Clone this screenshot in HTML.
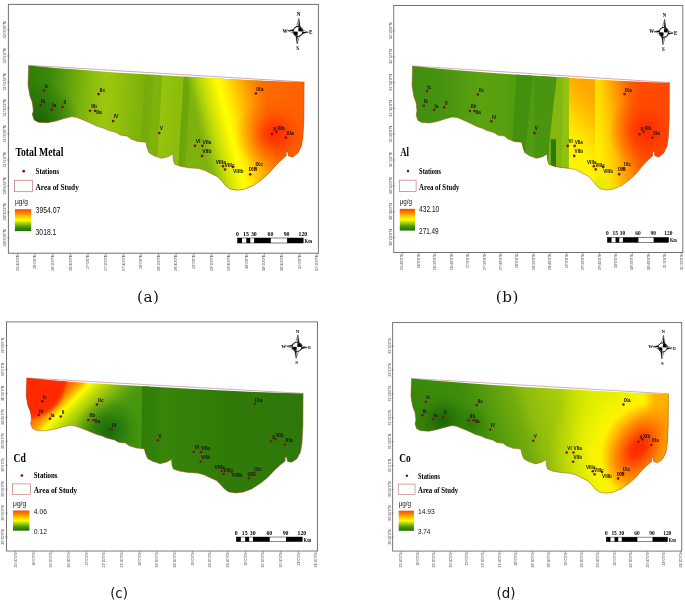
<!DOCTYPE html>
<html lang="en"><head><meta charset="utf-8"><title>Metal distribution maps</title>
<style>html,body{margin:0;padding:0;background:#fff;}svg{display:block;}</style></head>
<body>
<svg width="685" height="600" viewBox="0 0 685 600">
<defs><filter id="soft" x="-2%" y="-2%" width="104%" height="104%" color-interpolation-filters="sRGB"><feGaussianBlur stdDeviation="0.42"/></filter></defs>
<rect width="685" height="600" fill="#fff"/>
<g filter="url(#soft)">
<g transform="translate(0 0)">
<defs><clipPath id="clipa"><path d="M28.6 65.4 L55.0 67.9 L80.0 69.8 L115.0 72.4 L150.0 74.6 L200.0 77.4 L250.0 80.2 L285.0 81.7 L304.1 82.1 L303.9 117.8 L302.9 137.0 L301.5 145.8 L298.0 152.9 L292.7 156.9 L288.6 156.0 L287.3 150.2 L286.0 152.9 L286.4 155.5 L281.3 159.9 L277.5 163.5 L273.9 167.4 L268.6 173.6 L261.6 179.7 L252.9 185.8 L244.0 189.3 L237.0 190.2 L230.0 189.0 L225.7 185.8 L222.2 181.5 L217.7 176.7 L210.3 173.2 L205.1 170.4 L198.8 168.5 L188.8 167.8 L180.4 166.3 L174.7 164.2 L173.4 160.2 L172.9 153.9 L167.8 156.7 L161.5 158.3 L154.0 155.8 L149.0 152.7 L147.1 147.7 L145.8 142.2 L137.7 141.4 L130.8 138.9 L127.0 135.9 L120.1 135.1 L116.3 132.6 L107.5 130.1 L104.0 128.3 L98.0 126.5 L87.6 121.8 L77.0 117.4 L71.8 116.6 L64.8 118.3 L56.0 121.0 L47.3 122.7 L38.5 122.2 L34.2 120.0 L32.4 114.8 L33.3 110.4 L32.4 102.5 L29.8 95.5 L28.0 85.0 Z"/></clipPath><linearGradient id="ag1" gradientUnits="userSpaceOnUse" x1="28.0" y1="130.0" x2="304.0" y2="146.6"><stop offset="0.0000" stop-color="#2f7f08"/><stop offset="0.0614" stop-color="#3a880a"/><stop offset="0.1155" stop-color="#559a0c"/><stop offset="0.1588" stop-color="#6ca90c"/><stop offset="0.2238" stop-color="#8ebe0e"/><stop offset="0.2708" stop-color="#9ac60e"/><stop offset="0.3141" stop-color="#94c20c"/><stop offset="0.3682" stop-color="#86b80c"/><stop offset="0.4079" stop-color="#7eb20a"/><stop offset="0.4116" stop-color="#74ab0a"/><stop offset="0.4404" stop-color="#78ae0a"/><stop offset="0.4440" stop-color="#7eb20c"/><stop offset="0.4711" stop-color="#80b20c"/><stop offset="0.4747" stop-color="#94c40c"/><stop offset="0.5487" stop-color="#8cbc0c"/><stop offset="0.5523" stop-color="#6aa40a"/><stop offset="0.5740" stop-color="#6ea80a"/><stop offset="0.5776" stop-color="#7cb00c"/><stop offset="0.6318" stop-color="#80b40c"/><stop offset="1.0000" stop-color="#80b40c"/></linearGradient><linearGradient id="ag2" gradientUnits="userSpaceOnUse" x1="28.0" y1="130.0" x2="288.7" y2="64.8"><stop offset="0.6101" stop-color="#80b40c" stop-opacity="0"/><stop offset="0.6462" stop-color="#a0c80c" stop-opacity="1"/><stop offset="0.6751" stop-color="#c8e008"/><stop offset="0.7076" stop-color="#f0f000"/><stop offset="0.7292" stop-color="#ffff00"/><stop offset="0.7581" stop-color="#ffe600"/><stop offset="0.7942" stop-color="#ffc000"/><stop offset="0.8375" stop-color="#ff9400"/><stop offset="0.8881" stop-color="#ff6c00"/><stop offset="1.0000" stop-color="#ff6200"/></linearGradient><radialGradient id="ar1" gradientUnits="userSpaceOnUse" cx="38.0" cy="122.0" r="42.0" ><stop offset="0.0000" stop-color="#175f05" stop-opacity="0.9"/><stop offset="0.5000" stop-color="#1c6a06" stop-opacity="0.5"/><stop offset="1.0000" stop-color="#1c6a06" stop-opacity="0"/></radialGradient><radialGradient id="ar2" gradientUnits="userSpaceOnUse" cx="275.0" cy="134.0" r="40.0" ><stop offset="0.0000" stop-color="#ff2a00" stop-opacity="1"/><stop offset="0.2500" stop-color="#ff3400" stop-opacity="0.85"/><stop offset="0.6000" stop-color="#ff4a00" stop-opacity="0.4"/><stop offset="1.0000" stop-color="#ff5a00" stop-opacity="0"/></radialGradient>
<linearGradient id="rampa" gradientUnits="userSpaceOnUse" x1="0.0" y1="209.2" x2="0.0" y2="231.1"><stop offset="0.0000" stop-color="#ff4400"/><stop offset="0.1800" stop-color="#ff8800"/><stop offset="0.3600" stop-color="#ffd000"/><stop offset="0.5000" stop-color="#ffff00"/><stop offset="0.6200" stop-color="#b4d800"/><stop offset="0.8000" stop-color="#4c9a0c"/><stop offset="1.0000" stop-color="#1f6e08"/></linearGradient>
</defs>
<rect x="8.4" y="4.4" width="310.0" height="248.8" fill="#fff" stroke="#707070" stroke-width="1.0"/>
<line x1="17.60" y1="253.2" x2="17.60" y2="255.4" stroke="#555" stroke-width="0.5"/><text transform="translate(18.80 254.8) rotate(-90)" font-family="'Liberation Sans', sans-serif" font-size="3.7" text-anchor="end" fill="#444">25°40'0"E</text><line x1="35.22" y1="253.2" x2="35.22" y2="255.4" stroke="#555" stroke-width="0.5"/><text transform="translate(36.42 254.8) rotate(-90)" font-family="'Liberation Sans', sans-serif" font-size="3.7" text-anchor="end" fill="#444">26°0'0"E</text><line x1="52.84" y1="253.2" x2="52.84" y2="255.4" stroke="#555" stroke-width="0.5"/><text transform="translate(54.04 254.8) rotate(-90)" font-family="'Liberation Sans', sans-serif" font-size="3.7" text-anchor="end" fill="#444">26°20'0"E</text><line x1="70.46" y1="253.2" x2="70.46" y2="255.4" stroke="#555" stroke-width="0.5"/><text transform="translate(71.66 254.8) rotate(-90)" font-family="'Liberation Sans', sans-serif" font-size="3.7" text-anchor="end" fill="#444">26°40'0"E</text><line x1="88.08" y1="253.2" x2="88.08" y2="255.4" stroke="#555" stroke-width="0.5"/><text transform="translate(89.28 254.8) rotate(-90)" font-family="'Liberation Sans', sans-serif" font-size="3.7" text-anchor="end" fill="#444">27°0'0"E</text><line x1="105.70" y1="253.2" x2="105.70" y2="255.4" stroke="#555" stroke-width="0.5"/><text transform="translate(106.90 254.8) rotate(-90)" font-family="'Liberation Sans', sans-serif" font-size="3.7" text-anchor="end" fill="#444">27°20'0"E</text><line x1="123.32" y1="253.2" x2="123.32" y2="255.4" stroke="#555" stroke-width="0.5"/><text transform="translate(124.52 254.8) rotate(-90)" font-family="'Liberation Sans', sans-serif" font-size="3.7" text-anchor="end" fill="#444">27°40'0"E</text><line x1="140.94" y1="253.2" x2="140.94" y2="255.4" stroke="#555" stroke-width="0.5"/><text transform="translate(142.14 254.8) rotate(-90)" font-family="'Liberation Sans', sans-serif" font-size="3.7" text-anchor="end" fill="#444">28°0'0"E</text><line x1="158.56" y1="253.2" x2="158.56" y2="255.4" stroke="#555" stroke-width="0.5"/><text transform="translate(159.76 254.8) rotate(-90)" font-family="'Liberation Sans', sans-serif" font-size="3.7" text-anchor="end" fill="#444">28°20'0"E</text><line x1="176.18" y1="253.2" x2="176.18" y2="255.4" stroke="#555" stroke-width="0.5"/><text transform="translate(177.38 254.8) rotate(-90)" font-family="'Liberation Sans', sans-serif" font-size="3.7" text-anchor="end" fill="#444">28°40'0"E</text><line x1="193.80" y1="253.2" x2="193.80" y2="255.4" stroke="#555" stroke-width="0.5"/><text transform="translate(195.00 254.8) rotate(-90)" font-family="'Liberation Sans', sans-serif" font-size="3.7" text-anchor="end" fill="#444">29°0'0"E</text><line x1="211.42" y1="253.2" x2="211.42" y2="255.4" stroke="#555" stroke-width="0.5"/><text transform="translate(212.62 254.8) rotate(-90)" font-family="'Liberation Sans', sans-serif" font-size="3.7" text-anchor="end" fill="#444">29°20'0"E</text><line x1="229.04" y1="253.2" x2="229.04" y2="255.4" stroke="#555" stroke-width="0.5"/><text transform="translate(230.24 254.8) rotate(-90)" font-family="'Liberation Sans', sans-serif" font-size="3.7" text-anchor="end" fill="#444">29°40'0"E</text><line x1="246.66" y1="253.2" x2="246.66" y2="255.4" stroke="#555" stroke-width="0.5"/><text transform="translate(247.86 254.8) rotate(-90)" font-family="'Liberation Sans', sans-serif" font-size="3.7" text-anchor="end" fill="#444">30°0'0"E</text><line x1="264.28" y1="253.2" x2="264.28" y2="255.4" stroke="#555" stroke-width="0.5"/><text transform="translate(265.48 254.8) rotate(-90)" font-family="'Liberation Sans', sans-serif" font-size="3.7" text-anchor="end" fill="#444">30°20'0"E</text><line x1="281.90" y1="253.2" x2="281.90" y2="255.4" stroke="#555" stroke-width="0.5"/><text transform="translate(283.10 254.8) rotate(-90)" font-family="'Liberation Sans', sans-serif" font-size="3.7" text-anchor="end" fill="#444">30°40'0"E</text><line x1="299.52" y1="253.2" x2="299.52" y2="255.4" stroke="#555" stroke-width="0.5"/><text transform="translate(300.72 254.8) rotate(-90)" font-family="'Liberation Sans', sans-serif" font-size="3.7" text-anchor="end" fill="#444">31°0'0"E</text><line x1="317.14" y1="253.2" x2="317.14" y2="255.4" stroke="#555" stroke-width="0.5"/><text transform="translate(318.34 254.8) rotate(-90)" font-family="'Liberation Sans', sans-serif" font-size="3.7" text-anchor="end" fill="#444">31°20'0"E</text><line x1="7.2" y1="30.00" x2="9.6" y2="30.00" stroke="#555" stroke-width="0.5"/><text transform="translate(6.3 30.00) rotate(-90)" font-family="'Liberation Sans', sans-serif" font-size="3.8" text-anchor="middle" fill="#3a3a3a">32°20'0"N</text><line x1="7.2" y1="56.00" x2="9.6" y2="56.00" stroke="#555" stroke-width="0.5"/><text transform="translate(6.3 56.00) rotate(-90)" font-family="'Liberation Sans', sans-serif" font-size="3.8" text-anchor="middle" fill="#3a3a3a">32°5'0"N</text><line x1="7.2" y1="82.00" x2="9.6" y2="82.00" stroke="#555" stroke-width="0.5"/><text transform="translate(6.3 82.00) rotate(-90)" font-family="'Liberation Sans', sans-serif" font-size="3.8" text-anchor="middle" fill="#3a3a3a">31°50'0"N</text><line x1="7.2" y1="108.00" x2="9.6" y2="108.00" stroke="#555" stroke-width="0.5"/><text transform="translate(6.3 108.00) rotate(-90)" font-family="'Liberation Sans', sans-serif" font-size="3.8" text-anchor="middle" fill="#3a3a3a">31°35'0"N</text><line x1="7.2" y1="134.00" x2="9.6" y2="134.00" stroke="#555" stroke-width="0.5"/><text transform="translate(6.3 134.00) rotate(-90)" font-family="'Liberation Sans', sans-serif" font-size="3.8" text-anchor="middle" fill="#3a3a3a">31°20'0"N</text><line x1="7.2" y1="160.00" x2="9.6" y2="160.00" stroke="#555" stroke-width="0.5"/><text transform="translate(6.3 160.00) rotate(-90)" font-family="'Liberation Sans', sans-serif" font-size="3.8" text-anchor="middle" fill="#3a3a3a">31°5'0"N</text><line x1="7.2" y1="186.00" x2="9.6" y2="186.00" stroke="#555" stroke-width="0.5"/><text transform="translate(6.3 186.00) rotate(-90)" font-family="'Liberation Sans', sans-serif" font-size="3.8" text-anchor="middle" fill="#3a3a3a">30°50'0"N</text><line x1="7.2" y1="212.00" x2="9.6" y2="212.00" stroke="#555" stroke-width="0.5"/><text transform="translate(6.3 212.00) rotate(-90)" font-family="'Liberation Sans', sans-serif" font-size="3.8" text-anchor="middle" fill="#3a3a3a">30°35'0"N</text><line x1="7.2" y1="238.00" x2="9.6" y2="238.00" stroke="#555" stroke-width="0.5"/><text transform="translate(6.3 238.00) rotate(-90)" font-family="'Liberation Sans', sans-serif" font-size="3.8" text-anchor="middle" fill="#3a3a3a">30°20'0"N</text>
<path d="M28.4 65.3 L304.3 82.0" fill="none" stroke="#b88890" stroke-width="0.7"/>
<g clip-path="url(#clipa)"><rect x="20" y="55" width="295" height="145" fill="url(#ag1)"/><rect x="20" y="55" width="295" height="145" fill="url(#ag2)"/><rect x="20" y="55" width="295" height="145" fill="url(#ar1)"/><rect x="20" y="55" width="295" height="145" fill="url(#ar2)"/></g>
<path d="M304.1 82.1 L303.9 117.8 L302.9 137.0 L301.5 145.8 L298.0 152.9 L292.7 156.9 L288.6 156.0 L287.3 150.2 L286.0 152.9 L286.4 155.5 L281.3 159.9 L277.5 163.5 L273.9 167.4 L268.6 173.6 L261.6 179.7 L252.9 185.8 L244.0 189.3 L237.0 190.2 L230.0 189.0 L225.7 185.8 L222.2 181.5 L217.7 176.7 L210.3 173.2 L205.1 170.4 L198.8 168.5 L188.8 167.8 L180.4 166.3 L174.7 164.2 L173.4 160.2 L172.9 153.9 L167.8 156.7 L161.5 158.3 L154.0 155.8 L149.0 152.7 L147.1 147.7 L145.8 142.2 L137.7 141.4 L130.8 138.9 L127.0 135.9 L120.1 135.1 L116.3 132.6 L107.5 130.1 L104.0 128.3 L98.0 126.5 L87.6 121.8 L77.0 117.4 L71.8 116.6 L64.8 118.3 L56.0 121.0 L47.3 122.7 L38.5 122.2 L34.2 120.0 L32.4 114.8 L33.3 110.4 L32.4 102.5 L29.8 95.5 L28.0 85.0 L28.6 65.4" fill="none" stroke="#a84a22" stroke-width="0.6" stroke-opacity="0.85" stroke-linejoin="round"/>
<text x="46.5" y="88.2" font-family="'Liberation Sans', sans-serif" font-size="5.0" font-weight="bold" text-anchor="middle" fill="#151515">Ic</text><text x="43.0" y="102.9" font-family="'Liberation Sans', sans-serif" font-size="5.0" font-weight="bold" text-anchor="middle" fill="#151515">Ib</text><text x="54.3" y="107.2" font-family="'Liberation Sans', sans-serif" font-size="5.0" font-weight="bold" text-anchor="middle" fill="#151515">Ia</text><text x="64.8" y="104.3" font-family="'Liberation Sans', sans-serif" font-size="5.0" font-weight="bold" text-anchor="middle" fill="#151515">II</text><text x="102.5" y="91.7" font-family="'Liberation Sans', sans-serif" font-size="5.0" font-weight="bold" text-anchor="middle" fill="#151515">IIc</text><text x="94.1" y="108.1" font-family="'Liberation Sans', sans-serif" font-size="5.0" font-weight="bold" text-anchor="middle" fill="#151515">IIb</text><text x="99.0" y="113.9" font-family="'Liberation Sans', sans-serif" font-size="5.0" font-weight="bold" text-anchor="middle" fill="#151515">IIa</text><text x="116.0" y="118.3" font-family="'Liberation Sans', sans-serif" font-size="5.0" font-weight="bold" text-anchor="middle" fill="#151515">IV</text><text x="161.3" y="130.0" font-family="'Liberation Sans', sans-serif" font-size="5.0" font-weight="bold" text-anchor="middle" fill="#151515">V</text><text x="198.1" y="142.8" font-family="'Liberation Sans', sans-serif" font-size="5.0" font-weight="bold" text-anchor="middle" fill="#151515">VI</text><text x="206.9" y="143.5" font-family="'Liberation Sans', sans-serif" font-size="5.0" font-weight="bold" text-anchor="middle" fill="#151515">VIIa</text><text x="206.9" y="153.3" font-family="'Liberation Sans', sans-serif" font-size="5.0" font-weight="bold" text-anchor="middle" fill="#151515">VIIb</text><text x="220.8" y="163.9" font-family="'Liberation Sans', sans-serif" font-size="5.0" font-weight="bold" text-anchor="middle" fill="#151515">VIIIa</text><text x="229.6" y="167.4" font-family="'Liberation Sans', sans-serif" font-size="5.0" font-weight="bold" text-anchor="middle" fill="#151515">VIIIc</text><text x="238.3" y="173.2" font-family="'Liberation Sans', sans-serif" font-size="5.0" font-weight="bold" text-anchor="middle" fill="#151515">VIIIb</text><text x="252.9" y="171.3" font-family="'Liberation Sans', sans-serif" font-size="5.0" font-weight="bold" text-anchor="middle" fill="#151515">IXB</text><text x="259.2" y="166.0" font-family="'Liberation Sans', sans-serif" font-size="5.0" font-weight="bold" text-anchor="middle" fill="#151515">IXc</text><text x="259.9" y="91.1" font-family="'Liberation Sans', sans-serif" font-size="5.0" font-weight="bold" text-anchor="middle" fill="#151515">IXa</text><text x="274.7" y="131.3" font-family="'Liberation Sans', sans-serif" font-size="5.0" font-weight="bold" text-anchor="middle" fill="#151515">X</text><text x="280.8" y="129.7" font-family="'Liberation Sans', sans-serif" font-size="5.0" font-weight="bold" text-anchor="middle" fill="#151515">XIb</text><text x="290.1" y="134.9" font-family="'Liberation Sans', sans-serif" font-size="5.0" font-weight="bold" text-anchor="middle" fill="#151515">XIa</text><circle cx="44.0" cy="90.6" r="1.35" fill="#861010"/><circle cx="40.6" cy="105.4" r="1.35" fill="#861010"/><circle cx="51.7" cy="109.6" r="1.35" fill="#861010"/><circle cx="62.5" cy="107.0" r="1.35" fill="#861010"/><circle cx="98.6" cy="94.1" r="1.35" fill="#861010"/><circle cx="90.0" cy="110.8" r="1.35" fill="#861010"/><circle cx="95.1" cy="110.8" r="1.35" fill="#861010"/><circle cx="113.1" cy="121.1" r="1.35" fill="#861010"/><circle cx="159.2" cy="133.0" r="1.35" fill="#861010"/><circle cx="195.0" cy="145.8" r="1.35" fill="#861010"/><circle cx="202.4" cy="145.8" r="1.35" fill="#861010"/><circle cx="202.0" cy="155.9" r="1.35" fill="#861010"/><circle cx="223.0" cy="166.2" r="1.35" fill="#861010"/><circle cx="225.0" cy="169.5" r="1.35" fill="#861010"/><circle cx="233.0" cy="167.0" r="1.35" fill="#861010"/><circle cx="250.2" cy="174.3" r="1.35" fill="#861010"/><circle cx="255.1" cy="168.3" r="1.35" fill="#861010"/><circle cx="255.9" cy="93.6" r="1.35" fill="#861010"/><circle cx="272.0" cy="134.1" r="1.35" fill="#861010"/><circle cx="276.4" cy="131.8" r="1.35" fill="#861010"/><circle cx="285.9" cy="137.6" r="1.35" fill="#861010"/>
<text x="15.4" y="156.1" font-family="'Liberation Serif', serif" font-size="13.00" font-weight="bold" text-anchor="start" fill="#000" textLength="48.0" lengthAdjust="spacingAndGlyphs">Total Metal</text><circle cx="23.7" cy="171.2" r="1.35" fill="#861010"/><text x="35.6" y="174.2" font-family="'Liberation Serif', serif" font-size="8.60" font-weight="bold" text-anchor="start" fill="#000" textLength="23.6" lengthAdjust="spacingAndGlyphs">Stations</text><rect x="14.4" y="180.3" width="18.0" height="11.4" fill="#fff" stroke="#c27474" stroke-width="0.7"/><text x="35.6" y="189.8" font-family="'Liberation Serif', serif" font-size="8.60" font-weight="bold" text-anchor="start" fill="#000" textLength="43.2" lengthAdjust="spacingAndGlyphs">Area of Study</text><text x="14.9" y="204.0" font-family="'Liberation Sans', sans-serif" font-size="7.60" font-weight="normal" text-anchor="start" fill="#111" textLength="13.1" lengthAdjust="spacingAndGlyphs">μg/g</text><rect x="14.9" y="209.2" width="16.3" height="21.9" fill="url(#rampa)"/><text x="35.6" y="212.7" font-family="'Liberation Sans', sans-serif" font-size="8.30" font-weight="normal" text-anchor="start" fill="#111" textLength="24.8" lengthAdjust="spacingAndGlyphs">3954.07</text><text x="35.6" y="234.6" font-family="'Liberation Sans', sans-serif" font-size="8.30" font-weight="normal" text-anchor="start" fill="#111" textLength="20.8" lengthAdjust="spacingAndGlyphs">3018.1</text>
<g transform="translate(298.0 31.5) rotate(4)"><polygon points="0,-13.2 2.0,-3.5 0,0 -2.0,-3.5" fill="#fff" stroke="#000" stroke-width="0.45"/><polygon points="0,-13.2 2.0,-3.5 0,0" fill="#000"/><polygon points="0,12.6 2.0,3.5 0,0 -2.0,3.5" fill="#fff" stroke="#000" stroke-width="0.45"/><polygon points="0,12.6 -2.0,3.5 0,0" fill="#000"/><polygon points="-10.4,0 -3.5,-2.0 0,0 -3.5,2.0" fill="#fff" stroke="#000" stroke-width="0.45"/><polygon points="-10.4,0 -3.5,-2.0 0,0" fill="#000"/><polygon points="10.4,0 3.5,-2.0 0,0 3.5,2.0" fill="#fff" stroke="#000" stroke-width="0.45"/><polygon points="10.4,0 3.5,2.0 0,0" fill="#000"/><circle cx="0" cy="0" r="4.9" fill="#fff" stroke="#111" stroke-width="1.0"/><path d="M0.2 -0.2 L0.2 -4.2 A4.0 4.0 0 0 1 4.2 -0.2 Z" fill="#000"/><path d="M-0.2 0.2 L-0.2 4.2 A4.0 4.0 0 0 1 -4.2 0.2 Z" fill="#000"/></g><text x="298.7" y="16.2" font-family="'Liberation Serif', serif" font-size="5.20" font-weight="bold" text-anchor="middle" fill="#000">N</text><text x="297.6" y="50.4" font-family="'Liberation Serif', serif" font-size="5.20" font-weight="bold" text-anchor="middle" fill="#000">S</text><text x="285.0" y="32.6" font-family="'Liberation Serif', serif" font-size="5.20" font-weight="bold" text-anchor="middle" fill="#000">W</text><text x="310.8" y="34.0" font-family="'Liberation Serif', serif" font-size="5.20" font-weight="bold" text-anchor="middle" fill="#000">E</text>
<rect x="237.5" y="238.0" width="65.7" height="5.0" fill="#fff" stroke="#000" stroke-width="0.5"/><rect x="237.5" y="238.0" width="4.5" height="5.0" fill="#000"/><rect x="246.3" y="238.0" width="4.0" height="5.0" fill="#000"/><rect x="254.1" y="238.0" width="16.7" height="5.0" fill="#000"/><rect x="287.1" y="238.0" width="16.1" height="5.0" fill="#000"/><text x="237.5" y="236.0" font-family="'Liberation Serif', serif" font-size="5.80" font-weight="bold" text-anchor="middle" fill="#000">0</text><text x="245.9" y="236.0" font-family="'Liberation Serif', serif" font-size="5.80" font-weight="bold" text-anchor="middle" fill="#000">15</text><text x="253.8" y="236.0" font-family="'Liberation Serif', serif" font-size="5.80" font-weight="bold" text-anchor="middle" fill="#000">30</text><text x="270.4" y="236.0" font-family="'Liberation Serif', serif" font-size="5.80" font-weight="bold" text-anchor="middle" fill="#000">60</text><text x="286.6" y="236.0" font-family="'Liberation Serif', serif" font-size="5.80" font-weight="bold" text-anchor="middle" fill="#000">90</text><text x="302.9" y="236.0" font-family="'Liberation Serif', serif" font-size="5.80" font-weight="bold" text-anchor="middle" fill="#000">120</text><text x="304.6" y="243.0" font-family="'Liberation Serif', serif" font-size="6.20" font-weight="bold" text-anchor="start" fill="#000" textLength="7.4" lengthAdjust="spacingAndGlyphs">Km</text>
</g>
<g transform="translate(385.9 1.1) scale(0.9325 0.993)">
<defs><clipPath id="clipb"><path d="M28.6 65.4 L55.0 67.9 L80.0 69.8 L115.0 72.4 L150.0 74.6 L200.0 77.4 L250.0 80.2 L285.0 81.7 L304.1 82.1 L303.9 117.8 L302.9 137.0 L301.5 145.8 L298.0 152.9 L292.7 156.9 L288.6 156.0 L287.3 150.2 L286.0 152.9 L286.4 155.5 L281.3 159.9 L277.5 163.5 L273.9 167.4 L268.6 173.6 L261.6 179.7 L252.9 185.8 L244.0 189.3 L237.0 190.2 L230.0 189.0 L225.7 185.8 L222.2 181.5 L217.7 176.7 L210.3 173.2 L205.1 170.4 L198.8 168.5 L188.8 167.8 L180.4 166.3 L174.7 164.2 L173.4 160.2 L172.9 153.9 L167.8 156.7 L161.5 158.3 L154.0 155.8 L149.0 152.7 L147.1 147.7 L145.8 142.2 L137.7 141.4 L130.8 138.9 L127.0 135.9 L120.1 135.1 L116.3 132.6 L107.5 130.1 L104.0 128.3 L98.0 126.5 L87.6 121.8 L77.0 117.4 L71.8 116.6 L64.8 118.3 L56.0 121.0 L47.3 122.7 L38.5 122.2 L34.2 120.0 L32.4 114.8 L33.3 110.4 L32.4 102.5 L29.8 95.5 L28.0 85.0 Z"/></clipPath><linearGradient id="bg1" gradientUnits="userSpaceOnUse" x1="28.0" y1="130.0" x2="305.0" y2="130.0"><stop offset="0.0000" stop-color="#3f8e0e"/><stop offset="0.1155" stop-color="#46930f"/><stop offset="0.2599" stop-color="#5aa210"/><stop offset="0.3502" stop-color="#58a00f"/><stop offset="0.4043" stop-color="#509b0f"/><stop offset="0.6065" stop-color="#509b0f"/></linearGradient><linearGradient id="bg2" gradientUnits="userSpaceOnUse" x1="228.0" y1="95.0" x2="185.0" y2="135.0"><stop offset="0.0000" stop-color="#ffa400"/><stop offset="0.1500" stop-color="#ffac00"/><stop offset="0.3000" stop-color="#ffb800"/><stop offset="0.6000" stop-color="#ffd800"/><stop offset="0.8000" stop-color="#ffec00"/><stop offset="1.0000" stop-color="#fff400"/></linearGradient><linearGradient id="bg3" gradientUnits="userSpaceOnUse" x1="216.0" y1="130.0" x2="303.0" y2="116.9"><stop offset="0.0000" stop-color="#fff400"/><stop offset="0.0921" stop-color="#ffec00"/><stop offset="0.1573" stop-color="#ffe400"/><stop offset="0.2584" stop-color="#ffcc00"/><stop offset="0.4270" stop-color="#ff9400"/><stop offset="0.5730" stop-color="#ff6000"/><stop offset="0.7079" stop-color="#ff4c00"/><stop offset="1.0000" stop-color="#ff4800"/></linearGradient><radialGradient id="br3" gradientUnits="userSpaceOnUse" cx="226.0" cy="188.0" r="26.0" ><stop offset="0.0000" stop-color="#d0e400" stop-opacity="0.8"/><stop offset="0.5000" stop-color="#e8f000" stop-opacity="0.5"/><stop offset="1.0000" stop-color="#ffe800" stop-opacity="0"/></radialGradient><radialGradient id="br2" gradientUnits="userSpaceOnUse" cx="279.0" cy="131.0" r="40.0" ><stop offset="0.0000" stop-color="#ff2a00" stop-opacity="1"/><stop offset="0.3000" stop-color="#ff3400" stop-opacity="0.85"/><stop offset="0.6500" stop-color="#ff4200" stop-opacity="0.4"/><stop offset="1.0000" stop-color="#ff4800" stop-opacity="0"/></radialGradient>
<linearGradient id="rampb" gradientUnits="userSpaceOnUse" x1="0.0" y1="209.2" x2="0.0" y2="231.1"><stop offset="0.0000" stop-color="#ff4400"/><stop offset="0.1800" stop-color="#ff8800"/><stop offset="0.3600" stop-color="#ffd000"/><stop offset="0.5000" stop-color="#ffff00"/><stop offset="0.6200" stop-color="#b4d800"/><stop offset="0.8000" stop-color="#4c9a0c"/><stop offset="1.0000" stop-color="#1f6e08"/></linearGradient>
</defs>
<rect x="8.4" y="4.4" width="310.0" height="248.8" fill="#fff" stroke="#707070" stroke-width="1.0"/>
<line x1="17.60" y1="253.2" x2="17.60" y2="255.4" stroke="#555" stroke-width="0.5"/><text transform="translate(18.80 254.8) rotate(-90)" font-family="'Liberation Sans', sans-serif" font-size="3.7" text-anchor="end" fill="#444">25°40'0"E</text><line x1="35.22" y1="253.2" x2="35.22" y2="255.4" stroke="#555" stroke-width="0.5"/><text transform="translate(36.42 254.8) rotate(-90)" font-family="'Liberation Sans', sans-serif" font-size="3.7" text-anchor="end" fill="#444">26°0'0"E</text><line x1="52.84" y1="253.2" x2="52.84" y2="255.4" stroke="#555" stroke-width="0.5"/><text transform="translate(54.04 254.8) rotate(-90)" font-family="'Liberation Sans', sans-serif" font-size="3.7" text-anchor="end" fill="#444">26°20'0"E</text><line x1="70.46" y1="253.2" x2="70.46" y2="255.4" stroke="#555" stroke-width="0.5"/><text transform="translate(71.66 254.8) rotate(-90)" font-family="'Liberation Sans', sans-serif" font-size="3.7" text-anchor="end" fill="#444">26°40'0"E</text><line x1="88.08" y1="253.2" x2="88.08" y2="255.4" stroke="#555" stroke-width="0.5"/><text transform="translate(89.28 254.8) rotate(-90)" font-family="'Liberation Sans', sans-serif" font-size="3.7" text-anchor="end" fill="#444">27°0'0"E</text><line x1="105.70" y1="253.2" x2="105.70" y2="255.4" stroke="#555" stroke-width="0.5"/><text transform="translate(106.90 254.8) rotate(-90)" font-family="'Liberation Sans', sans-serif" font-size="3.7" text-anchor="end" fill="#444">27°20'0"E</text><line x1="123.32" y1="253.2" x2="123.32" y2="255.4" stroke="#555" stroke-width="0.5"/><text transform="translate(124.52 254.8) rotate(-90)" font-family="'Liberation Sans', sans-serif" font-size="3.7" text-anchor="end" fill="#444">27°40'0"E</text><line x1="140.94" y1="253.2" x2="140.94" y2="255.4" stroke="#555" stroke-width="0.5"/><text transform="translate(142.14 254.8) rotate(-90)" font-family="'Liberation Sans', sans-serif" font-size="3.7" text-anchor="end" fill="#444">28°0'0"E</text><line x1="158.56" y1="253.2" x2="158.56" y2="255.4" stroke="#555" stroke-width="0.5"/><text transform="translate(159.76 254.8) rotate(-90)" font-family="'Liberation Sans', sans-serif" font-size="3.7" text-anchor="end" fill="#444">28°20'0"E</text><line x1="176.18" y1="253.2" x2="176.18" y2="255.4" stroke="#555" stroke-width="0.5"/><text transform="translate(177.38 254.8) rotate(-90)" font-family="'Liberation Sans', sans-serif" font-size="3.7" text-anchor="end" fill="#444">28°40'0"E</text><line x1="193.80" y1="253.2" x2="193.80" y2="255.4" stroke="#555" stroke-width="0.5"/><text transform="translate(195.00 254.8) rotate(-90)" font-family="'Liberation Sans', sans-serif" font-size="3.7" text-anchor="end" fill="#444">29°0'0"E</text><line x1="211.42" y1="253.2" x2="211.42" y2="255.4" stroke="#555" stroke-width="0.5"/><text transform="translate(212.62 254.8) rotate(-90)" font-family="'Liberation Sans', sans-serif" font-size="3.7" text-anchor="end" fill="#444">29°20'0"E</text><line x1="229.04" y1="253.2" x2="229.04" y2="255.4" stroke="#555" stroke-width="0.5"/><text transform="translate(230.24 254.8) rotate(-90)" font-family="'Liberation Sans', sans-serif" font-size="3.7" text-anchor="end" fill="#444">29°40'0"E</text><line x1="246.66" y1="253.2" x2="246.66" y2="255.4" stroke="#555" stroke-width="0.5"/><text transform="translate(247.86 254.8) rotate(-90)" font-family="'Liberation Sans', sans-serif" font-size="3.7" text-anchor="end" fill="#444">30°0'0"E</text><line x1="264.28" y1="253.2" x2="264.28" y2="255.4" stroke="#555" stroke-width="0.5"/><text transform="translate(265.48 254.8) rotate(-90)" font-family="'Liberation Sans', sans-serif" font-size="3.7" text-anchor="end" fill="#444">30°20'0"E</text><line x1="281.90" y1="253.2" x2="281.90" y2="255.4" stroke="#555" stroke-width="0.5"/><text transform="translate(283.10 254.8) rotate(-90)" font-family="'Liberation Sans', sans-serif" font-size="3.7" text-anchor="end" fill="#444">30°40'0"E</text><line x1="299.52" y1="253.2" x2="299.52" y2="255.4" stroke="#555" stroke-width="0.5"/><text transform="translate(300.72 254.8) rotate(-90)" font-family="'Liberation Sans', sans-serif" font-size="3.7" text-anchor="end" fill="#444">31°0'0"E</text><line x1="317.14" y1="253.2" x2="317.14" y2="255.4" stroke="#555" stroke-width="0.5"/><text transform="translate(318.34 254.8) rotate(-90)" font-family="'Liberation Sans', sans-serif" font-size="3.7" text-anchor="end" fill="#444">31°20'0"E</text><line x1="7.2" y1="30.00" x2="9.6" y2="30.00" stroke="#555" stroke-width="0.5"/><text transform="translate(6.3 30.00) rotate(-90)" font-family="'Liberation Sans', sans-serif" font-size="3.8" text-anchor="middle" fill="#3a3a3a">32°20'0"N</text><line x1="7.2" y1="56.00" x2="9.6" y2="56.00" stroke="#555" stroke-width="0.5"/><text transform="translate(6.3 56.00) rotate(-90)" font-family="'Liberation Sans', sans-serif" font-size="3.8" text-anchor="middle" fill="#3a3a3a">32°5'0"N</text><line x1="7.2" y1="82.00" x2="9.6" y2="82.00" stroke="#555" stroke-width="0.5"/><text transform="translate(6.3 82.00) rotate(-90)" font-family="'Liberation Sans', sans-serif" font-size="3.8" text-anchor="middle" fill="#3a3a3a">31°50'0"N</text><line x1="7.2" y1="108.00" x2="9.6" y2="108.00" stroke="#555" stroke-width="0.5"/><text transform="translate(6.3 108.00) rotate(-90)" font-family="'Liberation Sans', sans-serif" font-size="3.8" text-anchor="middle" fill="#3a3a3a">31°35'0"N</text><line x1="7.2" y1="134.00" x2="9.6" y2="134.00" stroke="#555" stroke-width="0.5"/><text transform="translate(6.3 134.00) rotate(-90)" font-family="'Liberation Sans', sans-serif" font-size="3.8" text-anchor="middle" fill="#3a3a3a">31°20'0"N</text><line x1="7.2" y1="160.00" x2="9.6" y2="160.00" stroke="#555" stroke-width="0.5"/><text transform="translate(6.3 160.00) rotate(-90)" font-family="'Liberation Sans', sans-serif" font-size="3.8" text-anchor="middle" fill="#3a3a3a">31°5'0"N</text><line x1="7.2" y1="186.00" x2="9.6" y2="186.00" stroke="#555" stroke-width="0.5"/><text transform="translate(6.3 186.00) rotate(-90)" font-family="'Liberation Sans', sans-serif" font-size="3.8" text-anchor="middle" fill="#3a3a3a">30°50'0"N</text><line x1="7.2" y1="212.00" x2="9.6" y2="212.00" stroke="#555" stroke-width="0.5"/><text transform="translate(6.3 212.00) rotate(-90)" font-family="'Liberation Sans', sans-serif" font-size="3.8" text-anchor="middle" fill="#3a3a3a">30°35'0"N</text><line x1="7.2" y1="238.00" x2="9.6" y2="238.00" stroke="#555" stroke-width="0.5"/><text transform="translate(6.3 238.00) rotate(-90)" font-family="'Liberation Sans', sans-serif" font-size="3.8" text-anchor="middle" fill="#3a3a3a">30°20'0"N</text>
<path d="M28.4 65.3 L304.3 82.0" fill="none" stroke="#b88890" stroke-width="0.7"/>
<g clip-path="url(#clipb)"><rect x="20" y="55" width="176.5" height="145" fill="url(#bg1)"/><polygon points="141.0,60.0 159.0,60.0 148.0,165.0 134.0,165.0" fill="#448f0e" fill-opacity="1.0"/><polygon points="159.0,60.0 185.3,60.0 176.0,135.0 173.0,200.0 159.0,200.0" fill="#4a950f" fill-opacity="1.0"/><polygon points="185.3,60.0 196.5,60.0 196.5,200.0 172.0,200.0 176.0,135.0" fill="#84b810" fill-opacity="1.0"/><polygon points="176.8,139.0 182.4,139.0 182.4,200.0 176.8,200.0" fill="#2a7c0a" fill-opacity="1.0"/><polygon points="190.0,60.0 196.5,60.0 196.5,200.0 188.0,200.0" fill="#98c610" fill-opacity="0.7"/><rect x="196.3" y="55" width="28.2" height="145" fill="url(#bg2)"/><rect x="224.2" y="55" width="90" height="145" fill="url(#bg3)"/><rect x="224.2" y="120" width="80" height="80" fill="url(#br3)"/><rect x="224.2" y="55" width="90" height="145" fill="url(#br2)"/></g>
<path d="M304.1 82.1 L303.9 117.8 L302.9 137.0 L301.5 145.8 L298.0 152.9 L292.7 156.9 L288.6 156.0 L287.3 150.2 L286.0 152.9 L286.4 155.5 L281.3 159.9 L277.5 163.5 L273.9 167.4 L268.6 173.6 L261.6 179.7 L252.9 185.8 L244.0 189.3 L237.0 190.2 L230.0 189.0 L225.7 185.8 L222.2 181.5 L217.7 176.7 L210.3 173.2 L205.1 170.4 L198.8 168.5 L188.8 167.8 L180.4 166.3 L174.7 164.2 L173.4 160.2 L172.9 153.9 L167.8 156.7 L161.5 158.3 L154.0 155.8 L149.0 152.7 L147.1 147.7 L145.8 142.2 L137.7 141.4 L130.8 138.9 L127.0 135.9 L120.1 135.1 L116.3 132.6 L107.5 130.1 L104.0 128.3 L98.0 126.5 L87.6 121.8 L77.0 117.4 L71.8 116.6 L64.8 118.3 L56.0 121.0 L47.3 122.7 L38.5 122.2 L34.2 120.0 L32.4 114.8 L33.3 110.4 L32.4 102.5 L29.8 95.5 L28.0 85.0 L28.6 65.4" fill="none" stroke="#a84a22" stroke-width="0.6" stroke-opacity="0.85" stroke-linejoin="round"/>
<text x="46.5" y="88.2" font-family="'Liberation Sans', sans-serif" font-size="5.0" font-weight="bold" text-anchor="middle" fill="#151515">Ic</text><text x="43.0" y="102.9" font-family="'Liberation Sans', sans-serif" font-size="5.0" font-weight="bold" text-anchor="middle" fill="#151515">Ib</text><text x="54.3" y="107.2" font-family="'Liberation Sans', sans-serif" font-size="5.0" font-weight="bold" text-anchor="middle" fill="#151515">Ia</text><text x="64.8" y="104.3" font-family="'Liberation Sans', sans-serif" font-size="5.0" font-weight="bold" text-anchor="middle" fill="#151515">II</text><text x="102.5" y="91.7" font-family="'Liberation Sans', sans-serif" font-size="5.0" font-weight="bold" text-anchor="middle" fill="#151515">IIc</text><text x="94.1" y="108.1" font-family="'Liberation Sans', sans-serif" font-size="5.0" font-weight="bold" text-anchor="middle" fill="#151515">IIb</text><text x="99.0" y="113.9" font-family="'Liberation Sans', sans-serif" font-size="5.0" font-weight="bold" text-anchor="middle" fill="#151515">IIa</text><text x="116.0" y="118.3" font-family="'Liberation Sans', sans-serif" font-size="5.0" font-weight="bold" text-anchor="middle" fill="#151515">IV</text><text x="161.3" y="130.0" font-family="'Liberation Sans', sans-serif" font-size="5.0" font-weight="bold" text-anchor="middle" fill="#151515">V</text><text x="198.1" y="142.8" font-family="'Liberation Sans', sans-serif" font-size="5.0" font-weight="bold" text-anchor="middle" fill="#151515">VI</text><text x="206.9" y="143.5" font-family="'Liberation Sans', sans-serif" font-size="5.0" font-weight="bold" text-anchor="middle" fill="#151515">VIIa</text><text x="206.9" y="153.3" font-family="'Liberation Sans', sans-serif" font-size="5.0" font-weight="bold" text-anchor="middle" fill="#151515">VIIb</text><text x="220.8" y="163.9" font-family="'Liberation Sans', sans-serif" font-size="5.0" font-weight="bold" text-anchor="middle" fill="#151515">VIIIa</text><text x="229.6" y="167.4" font-family="'Liberation Sans', sans-serif" font-size="5.0" font-weight="bold" text-anchor="middle" fill="#151515">VIIIc</text><text x="238.3" y="173.2" font-family="'Liberation Sans', sans-serif" font-size="5.0" font-weight="bold" text-anchor="middle" fill="#151515">VIIIb</text><text x="252.9" y="171.3" font-family="'Liberation Sans', sans-serif" font-size="5.0" font-weight="bold" text-anchor="middle" fill="#151515">IXB</text><text x="259.2" y="166.0" font-family="'Liberation Sans', sans-serif" font-size="5.0" font-weight="bold" text-anchor="middle" fill="#151515">IXc</text><text x="259.9" y="91.1" font-family="'Liberation Sans', sans-serif" font-size="5.0" font-weight="bold" text-anchor="middle" fill="#151515">IXa</text><text x="274.7" y="131.3" font-family="'Liberation Sans', sans-serif" font-size="5.0" font-weight="bold" text-anchor="middle" fill="#151515">X</text><text x="280.8" y="129.7" font-family="'Liberation Sans', sans-serif" font-size="5.0" font-weight="bold" text-anchor="middle" fill="#151515">XIb</text><text x="290.1" y="134.9" font-family="'Liberation Sans', sans-serif" font-size="5.0" font-weight="bold" text-anchor="middle" fill="#151515">XIa</text><circle cx="44.0" cy="90.6" r="1.35" fill="#861010"/><circle cx="40.6" cy="105.4" r="1.35" fill="#861010"/><circle cx="51.7" cy="109.6" r="1.35" fill="#861010"/><circle cx="62.5" cy="107.0" r="1.35" fill="#861010"/><circle cx="98.6" cy="94.1" r="1.35" fill="#861010"/><circle cx="90.0" cy="110.8" r="1.35" fill="#861010"/><circle cx="95.1" cy="110.8" r="1.35" fill="#861010"/><circle cx="113.1" cy="121.1" r="1.35" fill="#861010"/><circle cx="159.2" cy="133.0" r="1.35" fill="#861010"/><circle cx="195.0" cy="145.8" r="1.35" fill="#861010"/><circle cx="202.4" cy="145.8" r="1.35" fill="#861010"/><circle cx="202.0" cy="155.9" r="1.35" fill="#861010"/><circle cx="223.0" cy="166.2" r="1.35" fill="#861010"/><circle cx="225.0" cy="169.5" r="1.35" fill="#861010"/><circle cx="233.0" cy="167.0" r="1.35" fill="#861010"/><circle cx="250.2" cy="174.3" r="1.35" fill="#861010"/><circle cx="255.1" cy="168.3" r="1.35" fill="#861010"/><circle cx="255.9" cy="93.6" r="1.35" fill="#861010"/><circle cx="272.0" cy="134.1" r="1.35" fill="#861010"/><circle cx="276.4" cy="131.8" r="1.35" fill="#861010"/><circle cx="285.9" cy="137.6" r="1.35" fill="#861010"/>
<text x="15.4" y="156.1" font-family="'Liberation Serif', serif" font-size="13.00" font-weight="bold" text-anchor="start" fill="#000" textLength="9.4" lengthAdjust="spacingAndGlyphs">Al</text><circle cx="23.7" cy="171.2" r="1.35" fill="#861010"/><text x="35.6" y="174.2" font-family="'Liberation Serif', serif" font-size="8.60" font-weight="bold" text-anchor="start" fill="#000" textLength="23.6" lengthAdjust="spacingAndGlyphs">Stations</text><rect x="14.4" y="180.3" width="18.0" height="11.4" fill="#fff" stroke="#c27474" stroke-width="0.7"/><text x="35.6" y="189.8" font-family="'Liberation Serif', serif" font-size="8.60" font-weight="bold" text-anchor="start" fill="#000" textLength="43.2" lengthAdjust="spacingAndGlyphs">Area of Study</text><text x="14.9" y="204.0" font-family="'Liberation Sans', sans-serif" font-size="7.60" font-weight="normal" text-anchor="start" fill="#111" textLength="13.1" lengthAdjust="spacingAndGlyphs">μg/g</text><rect x="14.9" y="209.2" width="16.3" height="21.9" fill="url(#rampb)"/><text x="35.6" y="212.7" font-family="'Liberation Sans', sans-serif" font-size="8.30" font-weight="normal" text-anchor="start" fill="#111" textLength="21.6" lengthAdjust="spacingAndGlyphs">432.10</text><text x="35.6" y="234.6" font-family="'Liberation Sans', sans-serif" font-size="8.30" font-weight="normal" text-anchor="start" fill="#111" textLength="21.0" lengthAdjust="spacingAndGlyphs">271.49</text>
<g transform="translate(298.0 31.5) rotate(4)"><polygon points="0,-13.2 2.0,-3.5 0,0 -2.0,-3.5" fill="#fff" stroke="#000" stroke-width="0.45"/><polygon points="0,-13.2 2.0,-3.5 0,0" fill="#000"/><polygon points="0,12.6 2.0,3.5 0,0 -2.0,3.5" fill="#fff" stroke="#000" stroke-width="0.45"/><polygon points="0,12.6 -2.0,3.5 0,0" fill="#000"/><polygon points="-10.4,0 -3.5,-2.0 0,0 -3.5,2.0" fill="#fff" stroke="#000" stroke-width="0.45"/><polygon points="-10.4,0 -3.5,-2.0 0,0" fill="#000"/><polygon points="10.4,0 3.5,-2.0 0,0 3.5,2.0" fill="#fff" stroke="#000" stroke-width="0.45"/><polygon points="10.4,0 3.5,2.0 0,0" fill="#000"/><circle cx="0" cy="0" r="4.9" fill="#fff" stroke="#111" stroke-width="1.0"/><path d="M0.2 -0.2 L0.2 -4.2 A4.0 4.0 0 0 1 4.2 -0.2 Z" fill="#000"/><path d="M-0.2 0.2 L-0.2 4.2 A4.0 4.0 0 0 1 -4.2 0.2 Z" fill="#000"/></g><text x="298.7" y="16.2" font-family="'Liberation Serif', serif" font-size="5.20" font-weight="bold" text-anchor="middle" fill="#000">N</text><text x="297.6" y="50.4" font-family="'Liberation Serif', serif" font-size="5.20" font-weight="bold" text-anchor="middle" fill="#000">S</text><text x="285.0" y="32.6" font-family="'Liberation Serif', serif" font-size="5.20" font-weight="bold" text-anchor="middle" fill="#000">W</text><text x="310.8" y="34.0" font-family="'Liberation Serif', serif" font-size="5.20" font-weight="bold" text-anchor="middle" fill="#000">E</text>
<rect x="237.5" y="238.0" width="65.7" height="5.0" fill="#fff" stroke="#000" stroke-width="0.5"/><rect x="237.5" y="238.0" width="4.5" height="5.0" fill="#000"/><rect x="246.3" y="238.0" width="4.0" height="5.0" fill="#000"/><rect x="254.1" y="238.0" width="16.7" height="5.0" fill="#000"/><rect x="287.1" y="238.0" width="16.1" height="5.0" fill="#000"/><text x="237.5" y="236.0" font-family="'Liberation Serif', serif" font-size="5.80" font-weight="bold" text-anchor="middle" fill="#000">0</text><text x="245.9" y="236.0" font-family="'Liberation Serif', serif" font-size="5.80" font-weight="bold" text-anchor="middle" fill="#000">15</text><text x="253.8" y="236.0" font-family="'Liberation Serif', serif" font-size="5.80" font-weight="bold" text-anchor="middle" fill="#000">30</text><text x="270.4" y="236.0" font-family="'Liberation Serif', serif" font-size="5.80" font-weight="bold" text-anchor="middle" fill="#000">60</text><text x="286.6" y="236.0" font-family="'Liberation Serif', serif" font-size="5.80" font-weight="bold" text-anchor="middle" fill="#000">90</text><text x="302.9" y="236.0" font-family="'Liberation Serif', serif" font-size="5.80" font-weight="bold" text-anchor="middle" fill="#000">120</text><text x="304.6" y="243.0" font-family="'Liberation Serif', serif" font-size="6.20" font-weight="bold" text-anchor="start" fill="#000" textLength="7.4" lengthAdjust="spacingAndGlyphs">Km</text>
</g>
<g transform="translate(-1.9 317.85) scale(1.003 0.9209)">
<defs><clipPath id="clipc"><path d="M28.6 65.4 L55.0 67.9 L80.0 69.8 L115.0 72.4 L150.0 74.6 L200.0 77.4 L250.0 80.2 L285.0 81.7 L304.1 82.1 L303.9 117.8 L302.9 137.0 L301.5 145.8 L298.0 152.9 L292.7 156.9 L288.6 156.0 L287.3 150.2 L286.0 152.9 L286.4 155.5 L281.3 159.9 L277.5 163.5 L273.9 167.4 L268.6 173.6 L261.6 179.7 L252.9 185.8 L244.0 189.3 L237.0 190.2 L230.0 189.0 L225.7 185.8 L222.2 181.5 L217.7 176.7 L210.3 173.2 L205.1 170.4 L198.8 168.5 L188.8 167.8 L180.4 166.3 L174.7 164.2 L173.4 160.2 L172.9 153.9 L167.8 156.7 L161.5 158.3 L154.0 155.8 L149.0 152.7 L147.1 147.7 L145.8 142.2 L137.7 141.4 L130.8 138.9 L127.0 135.9 L120.1 135.1 L116.3 132.6 L107.5 130.1 L104.0 128.3 L98.0 126.5 L87.6 121.8 L77.0 117.4 L71.8 116.6 L64.8 118.3 L56.0 121.0 L47.3 122.7 L38.5 122.2 L34.2 120.0 L32.4 114.8 L33.3 110.4 L32.4 102.5 L29.8 95.5 L28.0 85.0 Z"/></clipPath><linearGradient id="cg0" gradientUnits="userSpaceOnUse" x1="26.3" y1="378.3" x2="91.3" y2="443.3"><stop offset="0.0000" stop-color="#ff2a00"/><stop offset="0.3077" stop-color="#ff3800"/><stop offset="0.3615" stop-color="#ff6400"/><stop offset="0.4615" stop-color="#ffa800"/><stop offset="0.5262" stop-color="#ffff00"/><stop offset="0.5846" stop-color="#dcea00"/><stop offset="0.6462" stop-color="#b8d808"/><stop offset="0.7462" stop-color="#8cbc10"/><stop offset="0.8308" stop-color="#6aaa10"/><stop offset="0.9077" stop-color="#4e9c10"/><stop offset="1.0000" stop-color="#469610"/></linearGradient><radialGradient id="cr0" gradientUnits="userSpaceOnUse" cx="26.3" cy="378.3" r="42.5" ><stop offset="0.0000" stop-color="#ff2a00" stop-opacity="1"/><stop offset="0.8700" stop-color="#ff2a00" stop-opacity="1"/><stop offset="0.9400" stop-color="#ff3a00" stop-opacity="0.75"/><stop offset="1.0000" stop-color="#ff5a00" stop-opacity="0"/></radialGradient><radialGradient id="cr2" gradientUnits="userSpaceOnUse" cx="109.0" cy="431.0" r="34.0" ><stop offset="0.0000" stop-color="#15650a" stop-opacity="0.95"/><stop offset="0.4500" stop-color="#1f700a" stop-opacity="0.6"/><stop offset="1.0000" stop-color="#2f800a" stop-opacity="0"/></radialGradient><linearGradient id="cg1" gradientUnits="userSpaceOnUse" x1="143.0" y1="130.0" x2="305.0" y2="130.0"><stop offset="0.0000" stop-color="#2f7c09"/><stop offset="0.1358" stop-color="#388509"/><stop offset="0.3519" stop-color="#337f09"/><stop offset="0.5988" stop-color="#2f7a08"/><stop offset="1.0000" stop-color="#2d7808"/></linearGradient>
<linearGradient id="rampc" gradientUnits="userSpaceOnUse" x1="0.0" y1="209.2" x2="0.0" y2="231.1"><stop offset="0.0000" stop-color="#ff4400"/><stop offset="0.1800" stop-color="#ff8800"/><stop offset="0.3600" stop-color="#ffd000"/><stop offset="0.5000" stop-color="#ffff00"/><stop offset="0.6200" stop-color="#b4d800"/><stop offset="0.8000" stop-color="#4c9a0c"/><stop offset="1.0000" stop-color="#1f6e08"/></linearGradient>
</defs>
<rect x="8.4" y="4.4" width="310.0" height="248.8" fill="#fff" stroke="#707070" stroke-width="1.0"/>
<line x1="17.60" y1="253.2" x2="17.60" y2="255.4" stroke="#555" stroke-width="0.5"/><text transform="translate(18.80 254.8) rotate(-90)" font-family="'Liberation Sans', sans-serif" font-size="3.7" text-anchor="end" fill="#444">25°40'0"E</text><line x1="35.22" y1="253.2" x2="35.22" y2="255.4" stroke="#555" stroke-width="0.5"/><text transform="translate(36.42 254.8) rotate(-90)" font-family="'Liberation Sans', sans-serif" font-size="3.7" text-anchor="end" fill="#444">26°0'0"E</text><line x1="52.84" y1="253.2" x2="52.84" y2="255.4" stroke="#555" stroke-width="0.5"/><text transform="translate(54.04 254.8) rotate(-90)" font-family="'Liberation Sans', sans-serif" font-size="3.7" text-anchor="end" fill="#444">26°20'0"E</text><line x1="70.46" y1="253.2" x2="70.46" y2="255.4" stroke="#555" stroke-width="0.5"/><text transform="translate(71.66 254.8) rotate(-90)" font-family="'Liberation Sans', sans-serif" font-size="3.7" text-anchor="end" fill="#444">26°40'0"E</text><line x1="88.08" y1="253.2" x2="88.08" y2="255.4" stroke="#555" stroke-width="0.5"/><text transform="translate(89.28 254.8) rotate(-90)" font-family="'Liberation Sans', sans-serif" font-size="3.7" text-anchor="end" fill="#444">27°0'0"E</text><line x1="105.70" y1="253.2" x2="105.70" y2="255.4" stroke="#555" stroke-width="0.5"/><text transform="translate(106.90 254.8) rotate(-90)" font-family="'Liberation Sans', sans-serif" font-size="3.7" text-anchor="end" fill="#444">27°20'0"E</text><line x1="123.32" y1="253.2" x2="123.32" y2="255.4" stroke="#555" stroke-width="0.5"/><text transform="translate(124.52 254.8) rotate(-90)" font-family="'Liberation Sans', sans-serif" font-size="3.7" text-anchor="end" fill="#444">27°40'0"E</text><line x1="140.94" y1="253.2" x2="140.94" y2="255.4" stroke="#555" stroke-width="0.5"/><text transform="translate(142.14 254.8) rotate(-90)" font-family="'Liberation Sans', sans-serif" font-size="3.7" text-anchor="end" fill="#444">28°0'0"E</text><line x1="158.56" y1="253.2" x2="158.56" y2="255.4" stroke="#555" stroke-width="0.5"/><text transform="translate(159.76 254.8) rotate(-90)" font-family="'Liberation Sans', sans-serif" font-size="3.7" text-anchor="end" fill="#444">28°20'0"E</text><line x1="176.18" y1="253.2" x2="176.18" y2="255.4" stroke="#555" stroke-width="0.5"/><text transform="translate(177.38 254.8) rotate(-90)" font-family="'Liberation Sans', sans-serif" font-size="3.7" text-anchor="end" fill="#444">28°40'0"E</text><line x1="193.80" y1="253.2" x2="193.80" y2="255.4" stroke="#555" stroke-width="0.5"/><text transform="translate(195.00 254.8) rotate(-90)" font-family="'Liberation Sans', sans-serif" font-size="3.7" text-anchor="end" fill="#444">29°0'0"E</text><line x1="211.42" y1="253.2" x2="211.42" y2="255.4" stroke="#555" stroke-width="0.5"/><text transform="translate(212.62 254.8) rotate(-90)" font-family="'Liberation Sans', sans-serif" font-size="3.7" text-anchor="end" fill="#444">29°20'0"E</text><line x1="229.04" y1="253.2" x2="229.04" y2="255.4" stroke="#555" stroke-width="0.5"/><text transform="translate(230.24 254.8) rotate(-90)" font-family="'Liberation Sans', sans-serif" font-size="3.7" text-anchor="end" fill="#444">29°40'0"E</text><line x1="246.66" y1="253.2" x2="246.66" y2="255.4" stroke="#555" stroke-width="0.5"/><text transform="translate(247.86 254.8) rotate(-90)" font-family="'Liberation Sans', sans-serif" font-size="3.7" text-anchor="end" fill="#444">30°0'0"E</text><line x1="264.28" y1="253.2" x2="264.28" y2="255.4" stroke="#555" stroke-width="0.5"/><text transform="translate(265.48 254.8) rotate(-90)" font-family="'Liberation Sans', sans-serif" font-size="3.7" text-anchor="end" fill="#444">30°20'0"E</text><line x1="281.90" y1="253.2" x2="281.90" y2="255.4" stroke="#555" stroke-width="0.5"/><text transform="translate(283.10 254.8) rotate(-90)" font-family="'Liberation Sans', sans-serif" font-size="3.7" text-anchor="end" fill="#444">30°40'0"E</text><line x1="299.52" y1="253.2" x2="299.52" y2="255.4" stroke="#555" stroke-width="0.5"/><text transform="translate(300.72 254.8) rotate(-90)" font-family="'Liberation Sans', sans-serif" font-size="3.7" text-anchor="end" fill="#444">31°0'0"E</text><line x1="317.14" y1="253.2" x2="317.14" y2="255.4" stroke="#555" stroke-width="0.5"/><text transform="translate(318.34 254.8) rotate(-90)" font-family="'Liberation Sans', sans-serif" font-size="3.7" text-anchor="end" fill="#444">31°20'0"E</text><line x1="7.2" y1="30.00" x2="9.6" y2="30.00" stroke="#555" stroke-width="0.5"/><text transform="translate(6.3 30.00) rotate(-90)" font-family="'Liberation Sans', sans-serif" font-size="3.8" text-anchor="middle" fill="#3a3a3a">32°20'0"N</text><line x1="7.2" y1="56.00" x2="9.6" y2="56.00" stroke="#555" stroke-width="0.5"/><text transform="translate(6.3 56.00) rotate(-90)" font-family="'Liberation Sans', sans-serif" font-size="3.8" text-anchor="middle" fill="#3a3a3a">32°5'0"N</text><line x1="7.2" y1="82.00" x2="9.6" y2="82.00" stroke="#555" stroke-width="0.5"/><text transform="translate(6.3 82.00) rotate(-90)" font-family="'Liberation Sans', sans-serif" font-size="3.8" text-anchor="middle" fill="#3a3a3a">31°50'0"N</text><line x1="7.2" y1="108.00" x2="9.6" y2="108.00" stroke="#555" stroke-width="0.5"/><text transform="translate(6.3 108.00) rotate(-90)" font-family="'Liberation Sans', sans-serif" font-size="3.8" text-anchor="middle" fill="#3a3a3a">31°35'0"N</text><line x1="7.2" y1="134.00" x2="9.6" y2="134.00" stroke="#555" stroke-width="0.5"/><text transform="translate(6.3 134.00) rotate(-90)" font-family="'Liberation Sans', sans-serif" font-size="3.8" text-anchor="middle" fill="#3a3a3a">31°20'0"N</text><line x1="7.2" y1="160.00" x2="9.6" y2="160.00" stroke="#555" stroke-width="0.5"/><text transform="translate(6.3 160.00) rotate(-90)" font-family="'Liberation Sans', sans-serif" font-size="3.8" text-anchor="middle" fill="#3a3a3a">31°5'0"N</text><line x1="7.2" y1="186.00" x2="9.6" y2="186.00" stroke="#555" stroke-width="0.5"/><text transform="translate(6.3 186.00) rotate(-90)" font-family="'Liberation Sans', sans-serif" font-size="3.8" text-anchor="middle" fill="#3a3a3a">30°50'0"N</text><line x1="7.2" y1="212.00" x2="9.6" y2="212.00" stroke="#555" stroke-width="0.5"/><text transform="translate(6.3 212.00) rotate(-90)" font-family="'Liberation Sans', sans-serif" font-size="3.8" text-anchor="middle" fill="#3a3a3a">30°35'0"N</text><line x1="7.2" y1="238.00" x2="9.6" y2="238.00" stroke="#555" stroke-width="0.5"/><text transform="translate(6.3 238.00) rotate(-90)" font-family="'Liberation Sans', sans-serif" font-size="3.8" text-anchor="middle" fill="#3a3a3a">30°20'0"N</text>
<path d="M28.4 65.3 L304.3 82.0" fill="none" stroke="#b88890" stroke-width="0.7"/>
<g clip-path="url(#clipc)"><g transform="scale(0.99701 1.08589) translate(1.9 -317.85)"><rect x="15" y="365" width="135" height="90" fill="url(#cg0)"/><rect x="15" y="365" width="135" height="90" fill="url(#cr0)"/><rect x="15" y="365" width="135" height="90" fill="url(#cr2)"/></g><polygon points="144.0,55.0 315.0,55.0 315.0,200.0 142.0,200.0" fill="url(#cg1)" fill-opacity="1.0"/></g>
<path d="M304.1 82.1 L303.9 117.8 L302.9 137.0 L301.5 145.8 L298.0 152.9 L292.7 156.9 L288.6 156.0 L287.3 150.2 L286.0 152.9 L286.4 155.5 L281.3 159.9 L277.5 163.5 L273.9 167.4 L268.6 173.6 L261.6 179.7 L252.9 185.8 L244.0 189.3 L237.0 190.2 L230.0 189.0 L225.7 185.8 L222.2 181.5 L217.7 176.7 L210.3 173.2 L205.1 170.4 L198.8 168.5 L188.8 167.8 L180.4 166.3 L174.7 164.2 L173.4 160.2 L172.9 153.9 L167.8 156.7 L161.5 158.3 L154.0 155.8 L149.0 152.7 L147.1 147.7 L145.8 142.2 L137.7 141.4 L130.8 138.9 L127.0 135.9 L120.1 135.1 L116.3 132.6 L107.5 130.1 L104.0 128.3 L98.0 126.5 L87.6 121.8 L77.0 117.4 L71.8 116.6 L64.8 118.3 L56.0 121.0 L47.3 122.7 L38.5 122.2 L34.2 120.0 L32.4 114.8 L33.3 110.4 L32.4 102.5 L29.8 95.5 L28.0 85.0 L28.6 65.4" fill="none" stroke="#a84a22" stroke-width="0.6" stroke-opacity="0.85" stroke-linejoin="round"/>
<text x="46.5" y="88.2" font-family="'Liberation Sans', sans-serif" font-size="5.0" font-weight="bold" text-anchor="middle" fill="#151515">Ic</text><text x="43.0" y="102.9" font-family="'Liberation Sans', sans-serif" font-size="5.0" font-weight="bold" text-anchor="middle" fill="#151515">Ib</text><text x="54.3" y="107.2" font-family="'Liberation Sans', sans-serif" font-size="5.0" font-weight="bold" text-anchor="middle" fill="#151515">Ia</text><text x="64.8" y="104.3" font-family="'Liberation Sans', sans-serif" font-size="5.0" font-weight="bold" text-anchor="middle" fill="#151515">II</text><text x="102.5" y="91.7" font-family="'Liberation Sans', sans-serif" font-size="5.0" font-weight="bold" text-anchor="middle" fill="#151515">IIc</text><text x="94.1" y="108.1" font-family="'Liberation Sans', sans-serif" font-size="5.0" font-weight="bold" text-anchor="middle" fill="#151515">IIb</text><text x="99.0" y="113.9" font-family="'Liberation Sans', sans-serif" font-size="5.0" font-weight="bold" text-anchor="middle" fill="#151515">IIa</text><text x="116.0" y="118.3" font-family="'Liberation Sans', sans-serif" font-size="5.0" font-weight="bold" text-anchor="middle" fill="#151515">IV</text><text x="161.3" y="130.0" font-family="'Liberation Sans', sans-serif" font-size="5.0" font-weight="bold" text-anchor="middle" fill="#151515">V</text><text x="198.1" y="142.8" font-family="'Liberation Sans', sans-serif" font-size="5.0" font-weight="bold" text-anchor="middle" fill="#151515">VI</text><text x="206.9" y="143.5" font-family="'Liberation Sans', sans-serif" font-size="5.0" font-weight="bold" text-anchor="middle" fill="#151515">VIIa</text><text x="206.9" y="153.3" font-family="'Liberation Sans', sans-serif" font-size="5.0" font-weight="bold" text-anchor="middle" fill="#151515">VIIb</text><text x="220.8" y="163.9" font-family="'Liberation Sans', sans-serif" font-size="5.0" font-weight="bold" text-anchor="middle" fill="#151515">VIIIa</text><text x="229.6" y="167.4" font-family="'Liberation Sans', sans-serif" font-size="5.0" font-weight="bold" text-anchor="middle" fill="#151515">VIIIc</text><text x="238.3" y="173.2" font-family="'Liberation Sans', sans-serif" font-size="5.0" font-weight="bold" text-anchor="middle" fill="#151515">VIIIb</text><text x="252.9" y="171.3" font-family="'Liberation Sans', sans-serif" font-size="5.0" font-weight="bold" text-anchor="middle" fill="#151515">IXB</text><text x="259.2" y="166.0" font-family="'Liberation Sans', sans-serif" font-size="5.0" font-weight="bold" text-anchor="middle" fill="#151515">IXc</text><text x="259.9" y="91.1" font-family="'Liberation Sans', sans-serif" font-size="5.0" font-weight="bold" text-anchor="middle" fill="#151515">IXa</text><text x="274.7" y="131.3" font-family="'Liberation Sans', sans-serif" font-size="5.0" font-weight="bold" text-anchor="middle" fill="#151515">X</text><text x="280.8" y="129.7" font-family="'Liberation Sans', sans-serif" font-size="5.0" font-weight="bold" text-anchor="middle" fill="#151515">XIb</text><text x="290.1" y="134.9" font-family="'Liberation Sans', sans-serif" font-size="5.0" font-weight="bold" text-anchor="middle" fill="#151515">XIa</text><circle cx="44.0" cy="90.6" r="1.35" fill="#861010"/><circle cx="40.6" cy="105.4" r="1.35" fill="#861010"/><circle cx="51.7" cy="109.6" r="1.35" fill="#861010"/><circle cx="62.5" cy="107.0" r="1.35" fill="#861010"/><circle cx="98.6" cy="94.1" r="1.35" fill="#861010"/><circle cx="90.0" cy="110.8" r="1.35" fill="#861010"/><circle cx="95.1" cy="110.8" r="1.35" fill="#861010"/><circle cx="113.1" cy="121.1" r="1.35" fill="#861010"/><circle cx="159.2" cy="133.0" r="1.35" fill="#861010"/><circle cx="195.0" cy="145.8" r="1.35" fill="#861010"/><circle cx="202.4" cy="145.8" r="1.35" fill="#861010"/><circle cx="202.0" cy="155.9" r="1.35" fill="#861010"/><circle cx="223.0" cy="166.2" r="1.35" fill="#861010"/><circle cx="225.0" cy="169.5" r="1.35" fill="#861010"/><circle cx="233.0" cy="167.0" r="1.35" fill="#861010"/><circle cx="250.2" cy="174.3" r="1.35" fill="#861010"/><circle cx="255.1" cy="168.3" r="1.35" fill="#861010"/><circle cx="255.9" cy="93.6" r="1.35" fill="#861010"/><circle cx="272.0" cy="134.1" r="1.35" fill="#861010"/><circle cx="276.4" cy="131.8" r="1.35" fill="#861010"/><circle cx="285.9" cy="137.6" r="1.35" fill="#861010"/>
<text x="15.4" y="156.1" font-family="'Liberation Serif', serif" font-size="13.00" font-weight="bold" text-anchor="start" fill="#000" textLength="12.3" lengthAdjust="spacingAndGlyphs">Cd</text><circle cx="23.7" cy="171.2" r="1.35" fill="#861010"/><text x="35.6" y="174.2" font-family="'Liberation Serif', serif" font-size="8.60" font-weight="bold" text-anchor="start" fill="#000" textLength="23.6" lengthAdjust="spacingAndGlyphs">Stations</text><rect x="14.4" y="180.3" width="18.0" height="11.4" fill="#fff" stroke="#c27474" stroke-width="0.7"/><text x="35.6" y="189.8" font-family="'Liberation Serif', serif" font-size="8.60" font-weight="bold" text-anchor="start" fill="#000" textLength="43.2" lengthAdjust="spacingAndGlyphs">Area of Study</text><text x="14.9" y="204.0" font-family="'Liberation Sans', sans-serif" font-size="7.60" font-weight="normal" text-anchor="start" fill="#111" textLength="13.1" lengthAdjust="spacingAndGlyphs">μg/g</text><rect x="14.9" y="209.2" width="16.3" height="21.9" fill="url(#rampc)"/><text x="35.6" y="212.7" font-family="'Liberation Sans', sans-serif" font-size="8.30" font-weight="normal" text-anchor="start" fill="#111" textLength="13.2" lengthAdjust="spacingAndGlyphs">4.06</text><text x="35.6" y="234.6" font-family="'Liberation Sans', sans-serif" font-size="8.30" font-weight="normal" text-anchor="start" fill="#111" textLength="13.2" lengthAdjust="spacingAndGlyphs">0.12</text>
<g transform="translate(298.0 31.5) rotate(4)"><polygon points="0,-13.2 2.0,-3.5 0,0 -2.0,-3.5" fill="#fff" stroke="#000" stroke-width="0.45"/><polygon points="0,-13.2 2.0,-3.5 0,0" fill="#000"/><polygon points="0,12.6 2.0,3.5 0,0 -2.0,3.5" fill="#fff" stroke="#000" stroke-width="0.45"/><polygon points="0,12.6 -2.0,3.5 0,0" fill="#000"/><polygon points="-10.4,0 -3.5,-2.0 0,0 -3.5,2.0" fill="#fff" stroke="#000" stroke-width="0.45"/><polygon points="-10.4,0 -3.5,-2.0 0,0" fill="#000"/><polygon points="10.4,0 3.5,-2.0 0,0 3.5,2.0" fill="#fff" stroke="#000" stroke-width="0.45"/><polygon points="10.4,0 3.5,2.0 0,0" fill="#000"/><circle cx="0" cy="0" r="4.9" fill="#fff" stroke="#111" stroke-width="1.0"/><path d="M0.2 -0.2 L0.2 -4.2 A4.0 4.0 0 0 1 4.2 -0.2 Z" fill="#000"/><path d="M-0.2 0.2 L-0.2 4.2 A4.0 4.0 0 0 1 -4.2 0.2 Z" fill="#000"/></g><text x="298.7" y="16.2" font-family="'Liberation Serif', serif" font-size="5.20" font-weight="bold" text-anchor="middle" fill="#000">N</text><text x="297.6" y="50.4" font-family="'Liberation Serif', serif" font-size="5.20" font-weight="bold" text-anchor="middle" fill="#000">S</text><text x="285.0" y="32.6" font-family="'Liberation Serif', serif" font-size="5.20" font-weight="bold" text-anchor="middle" fill="#000">W</text><text x="310.8" y="34.0" font-family="'Liberation Serif', serif" font-size="5.20" font-weight="bold" text-anchor="middle" fill="#000">E</text>
<rect x="237.5" y="238.0" width="65.7" height="5.0" fill="#fff" stroke="#000" stroke-width="0.5"/><rect x="237.5" y="238.0" width="4.5" height="5.0" fill="#000"/><rect x="246.3" y="238.0" width="4.0" height="5.0" fill="#000"/><rect x="254.1" y="238.0" width="16.7" height="5.0" fill="#000"/><rect x="287.1" y="238.0" width="16.1" height="5.0" fill="#000"/><text x="237.5" y="236.0" font-family="'Liberation Serif', serif" font-size="5.80" font-weight="bold" text-anchor="middle" fill="#000">0</text><text x="245.9" y="236.0" font-family="'Liberation Serif', serif" font-size="5.80" font-weight="bold" text-anchor="middle" fill="#000">15</text><text x="253.8" y="236.0" font-family="'Liberation Serif', serif" font-size="5.80" font-weight="bold" text-anchor="middle" fill="#000">30</text><text x="270.4" y="236.0" font-family="'Liberation Serif', serif" font-size="5.80" font-weight="bold" text-anchor="middle" fill="#000">60</text><text x="286.6" y="236.0" font-family="'Liberation Serif', serif" font-size="5.80" font-weight="bold" text-anchor="middle" fill="#000">90</text><text x="302.9" y="236.0" font-family="'Liberation Serif', serif" font-size="5.80" font-weight="bold" text-anchor="middle" fill="#000">120</text><text x="304.6" y="243.0" font-family="'Liberation Serif', serif" font-size="6.20" font-weight="bold" text-anchor="start" fill="#000" textLength="7.4" lengthAdjust="spacingAndGlyphs">Km</text>
</g>
<g transform="translate(384.8 318.45) scale(0.9325 0.9188)">
<defs><clipPath id="clipd"><path d="M28.6 65.4 L55.0 67.9 L80.0 69.8 L115.0 72.4 L150.0 74.6 L200.0 77.4 L250.0 80.2 L285.0 81.7 L304.1 82.1 L303.9 117.8 L302.9 137.0 L301.5 145.8 L298.0 152.9 L292.7 156.9 L288.6 156.0 L287.3 150.2 L286.0 152.9 L286.4 155.5 L281.3 159.9 L277.5 163.5 L273.9 167.4 L268.6 173.6 L261.6 179.7 L252.9 185.8 L244.0 189.3 L237.0 190.2 L230.0 189.0 L225.7 185.8 L222.2 181.5 L217.7 176.7 L210.3 173.2 L205.1 170.4 L198.8 168.5 L188.8 167.8 L180.4 166.3 L174.7 164.2 L173.4 160.2 L172.9 153.9 L167.8 156.7 L161.5 158.3 L154.0 155.8 L149.0 152.7 L147.1 147.7 L145.8 142.2 L137.7 141.4 L130.8 138.9 L127.0 135.9 L120.1 135.1 L116.3 132.6 L107.5 130.1 L104.0 128.3 L98.0 126.5 L87.6 121.8 L77.0 117.4 L71.8 116.6 L64.8 118.3 L56.0 121.0 L47.3 122.7 L38.5 122.2 L34.2 120.0 L32.4 114.8 L33.3 110.4 L32.4 102.5 L29.8 95.5 L28.0 85.0 Z"/></clipPath><linearGradient id="dg1" gradientUnits="userSpaceOnUse" x1="28.0" y1="130.0" x2="282.1" y2="53.8"><stop offset="0.0000" stop-color="#33820a"/><stop offset="0.1047" stop-color="#3a8a0a"/><stop offset="0.2419" stop-color="#3f8c0a"/><stop offset="0.2960" stop-color="#48920a"/><stop offset="0.3430" stop-color="#559a0c"/><stop offset="0.3935" stop-color="#64a40c"/><stop offset="0.4440" stop-color="#72ac0c"/><stop offset="0.4982" stop-color="#8ebc0c"/><stop offset="0.6209" stop-color="#a8cc0a"/><stop offset="0.6931" stop-color="#c8e000"/><stop offset="0.7581" stop-color="#e0ec00"/><stop offset="1.0000" stop-color="#e4ee00"/></linearGradient><radialGradient id="dr1" gradientUnits="userSpaceOnUse" cx="62.0" cy="111.0" r="30.0" ><stop offset="0.0000" stop-color="#155f05" stop-opacity="0.9"/><stop offset="0.5000" stop-color="#1c6a06" stop-opacity="0.5"/><stop offset="1.0000" stop-color="#2a7808" stop-opacity="0"/></radialGradient><radialGradient id="dr1b" gradientUnits="userSpaceOnUse" cx="93.0" cy="115.0" r="22.0" ><stop offset="0.0000" stop-color="#1c6a06" stop-opacity="0.55"/><stop offset="1.0000" stop-color="#2a7808" stop-opacity="0"/></radialGradient><radialGradient id="dr2" gradientUnits="userSpaceOnUse" cx="289.8" cy="148.9" r="115.0" ><stop offset="0.0000" stop-color="#ff8800" stop-opacity="1"/><stop offset="0.2609" stop-color="#ff9000" stop-opacity="1"/><stop offset="0.3652" stop-color="#ffa400" stop-opacity="1"/><stop offset="0.4435" stop-color="#ffc800" stop-opacity="1"/><stop offset="0.5043" stop-color="#fff200" stop-opacity="1"/><stop offset="0.5913" stop-color="#f4f400" stop-opacity="1"/><stop offset="0.7130" stop-color="#e8f000" stop-opacity="0.8"/><stop offset="0.8696" stop-color="#dcea00" stop-opacity="0.4"/><stop offset="1.0000" stop-color="#d4e600" stop-opacity="0"/></radialGradient><linearGradient id="dg4" gradientUnits="userSpaceOnUse" x1="278.0" y1="130.0" x2="305.0" y2="130.0"><stop offset="0.0000" stop-color="#ffa000" stop-opacity="0"/><stop offset="0.4444" stop-color="#ffa000" stop-opacity="0.75"/><stop offset="1.0000" stop-color="#ffa000" stop-opacity="1"/></linearGradient><radialGradient id="dr3" gradientUnits="userSpaceOnUse" cx="305.0" cy="78.0" r="26.0" ><stop offset="0.0000" stop-color="#ffb800" stop-opacity="0.9"/><stop offset="0.5000" stop-color="#ffb800" stop-opacity="0.5"/><stop offset="1.0000" stop-color="#ffc000" stop-opacity="0"/></radialGradient><radialGradient id="dr5" gradientUnits="userSpaceOnUse" cx="272.0" cy="141.0" r="29.0" gradientTransform="translate(272 141) rotate(122) scale(1.6 1) rotate(-122) translate(-272 -141)"><stop offset="0.0000" stop-color="#ff2800" stop-opacity="1"/><stop offset="0.2500" stop-color="#ff3000" stop-opacity="0.95"/><stop offset="0.6000" stop-color="#ff5800" stop-opacity="0.6"/><stop offset="1.0000" stop-color="#ff8800" stop-opacity="0"/></radialGradient>
<linearGradient id="rampd" gradientUnits="userSpaceOnUse" x1="0.0" y1="209.2" x2="0.0" y2="231.1"><stop offset="0.0000" stop-color="#ff4400"/><stop offset="0.1800" stop-color="#ff8800"/><stop offset="0.3600" stop-color="#ffd000"/><stop offset="0.5000" stop-color="#ffff00"/><stop offset="0.6200" stop-color="#b4d800"/><stop offset="0.8000" stop-color="#4c9a0c"/><stop offset="1.0000" stop-color="#1f6e08"/></linearGradient>
</defs>
<rect x="8.4" y="4.4" width="310.0" height="248.8" fill="#fff" stroke="#707070" stroke-width="1.0"/>
<line x1="17.60" y1="253.2" x2="17.60" y2="255.4" stroke="#555" stroke-width="0.5"/><text transform="translate(18.80 254.8) rotate(-90)" font-family="'Liberation Sans', sans-serif" font-size="3.7" text-anchor="end" fill="#444">25°40'0"E</text><line x1="35.22" y1="253.2" x2="35.22" y2="255.4" stroke="#555" stroke-width="0.5"/><text transform="translate(36.42 254.8) rotate(-90)" font-family="'Liberation Sans', sans-serif" font-size="3.7" text-anchor="end" fill="#444">26°0'0"E</text><line x1="52.84" y1="253.2" x2="52.84" y2="255.4" stroke="#555" stroke-width="0.5"/><text transform="translate(54.04 254.8) rotate(-90)" font-family="'Liberation Sans', sans-serif" font-size="3.7" text-anchor="end" fill="#444">26°20'0"E</text><line x1="70.46" y1="253.2" x2="70.46" y2="255.4" stroke="#555" stroke-width="0.5"/><text transform="translate(71.66 254.8) rotate(-90)" font-family="'Liberation Sans', sans-serif" font-size="3.7" text-anchor="end" fill="#444">26°40'0"E</text><line x1="88.08" y1="253.2" x2="88.08" y2="255.4" stroke="#555" stroke-width="0.5"/><text transform="translate(89.28 254.8) rotate(-90)" font-family="'Liberation Sans', sans-serif" font-size="3.7" text-anchor="end" fill="#444">27°0'0"E</text><line x1="105.70" y1="253.2" x2="105.70" y2="255.4" stroke="#555" stroke-width="0.5"/><text transform="translate(106.90 254.8) rotate(-90)" font-family="'Liberation Sans', sans-serif" font-size="3.7" text-anchor="end" fill="#444">27°20'0"E</text><line x1="123.32" y1="253.2" x2="123.32" y2="255.4" stroke="#555" stroke-width="0.5"/><text transform="translate(124.52 254.8) rotate(-90)" font-family="'Liberation Sans', sans-serif" font-size="3.7" text-anchor="end" fill="#444">27°40'0"E</text><line x1="140.94" y1="253.2" x2="140.94" y2="255.4" stroke="#555" stroke-width="0.5"/><text transform="translate(142.14 254.8) rotate(-90)" font-family="'Liberation Sans', sans-serif" font-size="3.7" text-anchor="end" fill="#444">28°0'0"E</text><line x1="158.56" y1="253.2" x2="158.56" y2="255.4" stroke="#555" stroke-width="0.5"/><text transform="translate(159.76 254.8) rotate(-90)" font-family="'Liberation Sans', sans-serif" font-size="3.7" text-anchor="end" fill="#444">28°20'0"E</text><line x1="176.18" y1="253.2" x2="176.18" y2="255.4" stroke="#555" stroke-width="0.5"/><text transform="translate(177.38 254.8) rotate(-90)" font-family="'Liberation Sans', sans-serif" font-size="3.7" text-anchor="end" fill="#444">28°40'0"E</text><line x1="193.80" y1="253.2" x2="193.80" y2="255.4" stroke="#555" stroke-width="0.5"/><text transform="translate(195.00 254.8) rotate(-90)" font-family="'Liberation Sans', sans-serif" font-size="3.7" text-anchor="end" fill="#444">29°0'0"E</text><line x1="211.42" y1="253.2" x2="211.42" y2="255.4" stroke="#555" stroke-width="0.5"/><text transform="translate(212.62 254.8) rotate(-90)" font-family="'Liberation Sans', sans-serif" font-size="3.7" text-anchor="end" fill="#444">29°20'0"E</text><line x1="229.04" y1="253.2" x2="229.04" y2="255.4" stroke="#555" stroke-width="0.5"/><text transform="translate(230.24 254.8) rotate(-90)" font-family="'Liberation Sans', sans-serif" font-size="3.7" text-anchor="end" fill="#444">29°40'0"E</text><line x1="246.66" y1="253.2" x2="246.66" y2="255.4" stroke="#555" stroke-width="0.5"/><text transform="translate(247.86 254.8) rotate(-90)" font-family="'Liberation Sans', sans-serif" font-size="3.7" text-anchor="end" fill="#444">30°0'0"E</text><line x1="264.28" y1="253.2" x2="264.28" y2="255.4" stroke="#555" stroke-width="0.5"/><text transform="translate(265.48 254.8) rotate(-90)" font-family="'Liberation Sans', sans-serif" font-size="3.7" text-anchor="end" fill="#444">30°20'0"E</text><line x1="281.90" y1="253.2" x2="281.90" y2="255.4" stroke="#555" stroke-width="0.5"/><text transform="translate(283.10 254.8) rotate(-90)" font-family="'Liberation Sans', sans-serif" font-size="3.7" text-anchor="end" fill="#444">30°40'0"E</text><line x1="299.52" y1="253.2" x2="299.52" y2="255.4" stroke="#555" stroke-width="0.5"/><text transform="translate(300.72 254.8) rotate(-90)" font-family="'Liberation Sans', sans-serif" font-size="3.7" text-anchor="end" fill="#444">31°0'0"E</text><line x1="317.14" y1="253.2" x2="317.14" y2="255.4" stroke="#555" stroke-width="0.5"/><text transform="translate(318.34 254.8) rotate(-90)" font-family="'Liberation Sans', sans-serif" font-size="3.7" text-anchor="end" fill="#444">31°20'0"E</text><line x1="7.2" y1="30.00" x2="9.6" y2="30.00" stroke="#555" stroke-width="0.5"/><text transform="translate(6.3 30.00) rotate(-90)" font-family="'Liberation Sans', sans-serif" font-size="3.8" text-anchor="middle" fill="#3a3a3a">32°20'0"N</text><line x1="7.2" y1="56.00" x2="9.6" y2="56.00" stroke="#555" stroke-width="0.5"/><text transform="translate(6.3 56.00) rotate(-90)" font-family="'Liberation Sans', sans-serif" font-size="3.8" text-anchor="middle" fill="#3a3a3a">32°5'0"N</text><line x1="7.2" y1="82.00" x2="9.6" y2="82.00" stroke="#555" stroke-width="0.5"/><text transform="translate(6.3 82.00) rotate(-90)" font-family="'Liberation Sans', sans-serif" font-size="3.8" text-anchor="middle" fill="#3a3a3a">31°50'0"N</text><line x1="7.2" y1="108.00" x2="9.6" y2="108.00" stroke="#555" stroke-width="0.5"/><text transform="translate(6.3 108.00) rotate(-90)" font-family="'Liberation Sans', sans-serif" font-size="3.8" text-anchor="middle" fill="#3a3a3a">31°35'0"N</text><line x1="7.2" y1="134.00" x2="9.6" y2="134.00" stroke="#555" stroke-width="0.5"/><text transform="translate(6.3 134.00) rotate(-90)" font-family="'Liberation Sans', sans-serif" font-size="3.8" text-anchor="middle" fill="#3a3a3a">31°20'0"N</text><line x1="7.2" y1="160.00" x2="9.6" y2="160.00" stroke="#555" stroke-width="0.5"/><text transform="translate(6.3 160.00) rotate(-90)" font-family="'Liberation Sans', sans-serif" font-size="3.8" text-anchor="middle" fill="#3a3a3a">31°5'0"N</text><line x1="7.2" y1="186.00" x2="9.6" y2="186.00" stroke="#555" stroke-width="0.5"/><text transform="translate(6.3 186.00) rotate(-90)" font-family="'Liberation Sans', sans-serif" font-size="3.8" text-anchor="middle" fill="#3a3a3a">30°50'0"N</text><line x1="7.2" y1="212.00" x2="9.6" y2="212.00" stroke="#555" stroke-width="0.5"/><text transform="translate(6.3 212.00) rotate(-90)" font-family="'Liberation Sans', sans-serif" font-size="3.8" text-anchor="middle" fill="#3a3a3a">30°35'0"N</text><line x1="7.2" y1="238.00" x2="9.6" y2="238.00" stroke="#555" stroke-width="0.5"/><text transform="translate(6.3 238.00) rotate(-90)" font-family="'Liberation Sans', sans-serif" font-size="3.8" text-anchor="middle" fill="#3a3a3a">30°20'0"N</text>
<path d="M28.4 65.3 L304.3 82.0" fill="none" stroke="#b88890" stroke-width="0.7"/>
<g clip-path="url(#clipd)"><rect x="20" y="55" width="295" height="145" fill="url(#dg1)"/><rect x="20" y="55" width="295" height="145" fill="url(#dr1)"/><rect x="20" y="55" width="295" height="145" fill="url(#dr1b)"/><rect x="20" y="55" width="295" height="145" fill="url(#dr2)"/><rect x="278" y="55" width="30" height="145" fill="url(#dg4)"/><rect x="20" y="55" width="295" height="145" fill="url(#dr3)"/><rect x="20" y="55" width="295" height="145" fill="url(#dr5)"/></g>
<path d="M304.1 82.1 L303.9 117.8 L302.9 137.0 L301.5 145.8 L298.0 152.9 L292.7 156.9 L288.6 156.0 L287.3 150.2 L286.0 152.9 L286.4 155.5 L281.3 159.9 L277.5 163.5 L273.9 167.4 L268.6 173.6 L261.6 179.7 L252.9 185.8 L244.0 189.3 L237.0 190.2 L230.0 189.0 L225.7 185.8 L222.2 181.5 L217.7 176.7 L210.3 173.2 L205.1 170.4 L198.8 168.5 L188.8 167.8 L180.4 166.3 L174.7 164.2 L173.4 160.2 L172.9 153.9 L167.8 156.7 L161.5 158.3 L154.0 155.8 L149.0 152.7 L147.1 147.7 L145.8 142.2 L137.7 141.4 L130.8 138.9 L127.0 135.9 L120.1 135.1 L116.3 132.6 L107.5 130.1 L104.0 128.3 L98.0 126.5 L87.6 121.8 L77.0 117.4 L71.8 116.6 L64.8 118.3 L56.0 121.0 L47.3 122.7 L38.5 122.2 L34.2 120.0 L32.4 114.8 L33.3 110.4 L32.4 102.5 L29.8 95.5 L28.0 85.0 L28.6 65.4" fill="none" stroke="#a84a22" stroke-width="0.6" stroke-opacity="0.85" stroke-linejoin="round"/>
<text x="46.5" y="88.2" font-family="'Liberation Sans', sans-serif" font-size="5.0" font-weight="bold" text-anchor="middle" fill="#151515">Ic</text><text x="43.0" y="102.9" font-family="'Liberation Sans', sans-serif" font-size="5.0" font-weight="bold" text-anchor="middle" fill="#151515">Ib</text><text x="54.3" y="107.2" font-family="'Liberation Sans', sans-serif" font-size="5.0" font-weight="bold" text-anchor="middle" fill="#151515">Ia</text><text x="64.8" y="104.3" font-family="'Liberation Sans', sans-serif" font-size="5.0" font-weight="bold" text-anchor="middle" fill="#151515">II</text><text x="102.5" y="91.7" font-family="'Liberation Sans', sans-serif" font-size="5.0" font-weight="bold" text-anchor="middle" fill="#151515">IIc</text><text x="94.1" y="108.1" font-family="'Liberation Sans', sans-serif" font-size="5.0" font-weight="bold" text-anchor="middle" fill="#151515">IIb</text><text x="99.0" y="113.9" font-family="'Liberation Sans', sans-serif" font-size="5.0" font-weight="bold" text-anchor="middle" fill="#151515">IIa</text><text x="116.0" y="118.3" font-family="'Liberation Sans', sans-serif" font-size="5.0" font-weight="bold" text-anchor="middle" fill="#151515">IV</text><text x="161.3" y="130.0" font-family="'Liberation Sans', sans-serif" font-size="5.0" font-weight="bold" text-anchor="middle" fill="#151515">V</text><text x="198.1" y="142.8" font-family="'Liberation Sans', sans-serif" font-size="5.0" font-weight="bold" text-anchor="middle" fill="#151515">VI</text><text x="206.9" y="143.5" font-family="'Liberation Sans', sans-serif" font-size="5.0" font-weight="bold" text-anchor="middle" fill="#151515">VIIa</text><text x="206.9" y="153.3" font-family="'Liberation Sans', sans-serif" font-size="5.0" font-weight="bold" text-anchor="middle" fill="#151515">VIIb</text><text x="220.8" y="163.9" font-family="'Liberation Sans', sans-serif" font-size="5.0" font-weight="bold" text-anchor="middle" fill="#151515">VIIIa</text><text x="229.6" y="167.4" font-family="'Liberation Sans', sans-serif" font-size="5.0" font-weight="bold" text-anchor="middle" fill="#151515">VIIIc</text><text x="238.3" y="173.2" font-family="'Liberation Sans', sans-serif" font-size="5.0" font-weight="bold" text-anchor="middle" fill="#151515">VIIIb</text><text x="252.9" y="171.3" font-family="'Liberation Sans', sans-serif" font-size="5.0" font-weight="bold" text-anchor="middle" fill="#151515">IXB</text><text x="259.2" y="166.0" font-family="'Liberation Sans', sans-serif" font-size="5.0" font-weight="bold" text-anchor="middle" fill="#151515">IXc</text><text x="259.9" y="91.1" font-family="'Liberation Sans', sans-serif" font-size="5.0" font-weight="bold" text-anchor="middle" fill="#151515">IXa</text><text x="274.7" y="131.3" font-family="'Liberation Sans', sans-serif" font-size="5.0" font-weight="bold" text-anchor="middle" fill="#151515">X</text><text x="280.8" y="129.7" font-family="'Liberation Sans', sans-serif" font-size="5.0" font-weight="bold" text-anchor="middle" fill="#151515">XIb</text><text x="290.1" y="134.9" font-family="'Liberation Sans', sans-serif" font-size="5.0" font-weight="bold" text-anchor="middle" fill="#151515">XIa</text><circle cx="44.0" cy="90.6" r="1.35" fill="#861010"/><circle cx="40.6" cy="105.4" r="1.35" fill="#861010"/><circle cx="51.7" cy="109.6" r="1.35" fill="#861010"/><circle cx="62.5" cy="107.0" r="1.35" fill="#861010"/><circle cx="98.6" cy="94.1" r="1.35" fill="#861010"/><circle cx="90.0" cy="110.8" r="1.35" fill="#861010"/><circle cx="95.1" cy="110.8" r="1.35" fill="#861010"/><circle cx="113.1" cy="121.1" r="1.35" fill="#861010"/><circle cx="159.2" cy="133.0" r="1.35" fill="#861010"/><circle cx="195.0" cy="145.8" r="1.35" fill="#861010"/><circle cx="202.4" cy="145.8" r="1.35" fill="#861010"/><circle cx="202.0" cy="155.9" r="1.35" fill="#861010"/><circle cx="223.0" cy="166.2" r="1.35" fill="#861010"/><circle cx="225.0" cy="169.5" r="1.35" fill="#861010"/><circle cx="233.0" cy="167.0" r="1.35" fill="#861010"/><circle cx="250.2" cy="174.3" r="1.35" fill="#861010"/><circle cx="255.1" cy="168.3" r="1.35" fill="#861010"/><circle cx="255.9" cy="93.6" r="1.35" fill="#861010"/><circle cx="272.0" cy="134.1" r="1.35" fill="#861010"/><circle cx="276.4" cy="131.8" r="1.35" fill="#861010"/><circle cx="285.9" cy="137.6" r="1.35" fill="#861010"/>
<text x="15.4" y="156.1" font-family="'Liberation Serif', serif" font-size="13.00" font-weight="bold" text-anchor="start" fill="#000" textLength="12.3" lengthAdjust="spacingAndGlyphs">Co</text><circle cx="23.7" cy="171.2" r="1.35" fill="#861010"/><text x="35.6" y="174.2" font-family="'Liberation Serif', serif" font-size="8.60" font-weight="bold" text-anchor="start" fill="#000" textLength="23.6" lengthAdjust="spacingAndGlyphs">Stations</text><rect x="14.4" y="180.3" width="18.0" height="11.4" fill="#fff" stroke="#c27474" stroke-width="0.7"/><text x="35.6" y="189.8" font-family="'Liberation Serif', serif" font-size="8.60" font-weight="bold" text-anchor="start" fill="#000" textLength="43.2" lengthAdjust="spacingAndGlyphs">Area of Study</text><text x="14.9" y="204.0" font-family="'Liberation Sans', sans-serif" font-size="7.60" font-weight="normal" text-anchor="start" fill="#111" textLength="13.1" lengthAdjust="spacingAndGlyphs">μg/g</text><rect x="14.9" y="209.2" width="16.3" height="21.9" fill="url(#rampd)"/><text x="35.6" y="212.7" font-family="'Liberation Sans', sans-serif" font-size="8.30" font-weight="normal" text-anchor="start" fill="#111" textLength="18.0" lengthAdjust="spacingAndGlyphs">14.93</text><text x="35.6" y="234.6" font-family="'Liberation Sans', sans-serif" font-size="8.30" font-weight="normal" text-anchor="start" fill="#111" textLength="13.2" lengthAdjust="spacingAndGlyphs">3.74</text>
<g transform="translate(298.0 31.5) rotate(4)"><polygon points="0,-13.2 2.0,-3.5 0,0 -2.0,-3.5" fill="#fff" stroke="#000" stroke-width="0.45"/><polygon points="0,-13.2 2.0,-3.5 0,0" fill="#000"/><polygon points="0,12.6 2.0,3.5 0,0 -2.0,3.5" fill="#fff" stroke="#000" stroke-width="0.45"/><polygon points="0,12.6 -2.0,3.5 0,0" fill="#000"/><polygon points="-10.4,0 -3.5,-2.0 0,0 -3.5,2.0" fill="#fff" stroke="#000" stroke-width="0.45"/><polygon points="-10.4,0 -3.5,-2.0 0,0" fill="#000"/><polygon points="10.4,0 3.5,-2.0 0,0 3.5,2.0" fill="#fff" stroke="#000" stroke-width="0.45"/><polygon points="10.4,0 3.5,2.0 0,0" fill="#000"/><circle cx="0" cy="0" r="4.9" fill="#fff" stroke="#111" stroke-width="1.0"/><path d="M0.2 -0.2 L0.2 -4.2 A4.0 4.0 0 0 1 4.2 -0.2 Z" fill="#000"/><path d="M-0.2 0.2 L-0.2 4.2 A4.0 4.0 0 0 1 -4.2 0.2 Z" fill="#000"/></g><text x="298.7" y="16.2" font-family="'Liberation Serif', serif" font-size="5.20" font-weight="bold" text-anchor="middle" fill="#000">N</text><text x="297.6" y="50.4" font-family="'Liberation Serif', serif" font-size="5.20" font-weight="bold" text-anchor="middle" fill="#000">S</text><text x="285.0" y="32.6" font-family="'Liberation Serif', serif" font-size="5.20" font-weight="bold" text-anchor="middle" fill="#000">W</text><text x="310.8" y="34.0" font-family="'Liberation Serif', serif" font-size="5.20" font-weight="bold" text-anchor="middle" fill="#000">E</text>
<rect x="237.5" y="238.0" width="65.7" height="5.0" fill="#fff" stroke="#000" stroke-width="0.5"/><rect x="237.5" y="238.0" width="4.5" height="5.0" fill="#000"/><rect x="246.3" y="238.0" width="4.0" height="5.0" fill="#000"/><rect x="254.1" y="238.0" width="16.7" height="5.0" fill="#000"/><rect x="287.1" y="238.0" width="16.1" height="5.0" fill="#000"/><text x="237.5" y="236.0" font-family="'Liberation Serif', serif" font-size="5.80" font-weight="bold" text-anchor="middle" fill="#000">0</text><text x="245.9" y="236.0" font-family="'Liberation Serif', serif" font-size="5.80" font-weight="bold" text-anchor="middle" fill="#000">15</text><text x="253.8" y="236.0" font-family="'Liberation Serif', serif" font-size="5.80" font-weight="bold" text-anchor="middle" fill="#000">30</text><text x="270.4" y="236.0" font-family="'Liberation Serif', serif" font-size="5.80" font-weight="bold" text-anchor="middle" fill="#000">60</text><text x="286.6" y="236.0" font-family="'Liberation Serif', serif" font-size="5.80" font-weight="bold" text-anchor="middle" fill="#000">90</text><text x="302.9" y="236.0" font-family="'Liberation Serif', serif" font-size="5.80" font-weight="bold" text-anchor="middle" fill="#000">120</text><text x="304.6" y="243.0" font-family="'Liberation Serif', serif" font-size="6.20" font-weight="bold" text-anchor="start" fill="#000" textLength="7.4" lengthAdjust="spacingAndGlyphs">Km</text>
</g>
</g>
<text x="148.3" y="302.0" font-family="'DejaVu Serif', 'Liberation Serif', serif" font-size="15.2" letter-spacing="0.5" text-anchor="middle" fill="#111">(a)</text>
<text x="507.3" y="302.1" font-family="'DejaVu Serif', 'Liberation Serif', serif" font-size="15.2" letter-spacing="0.5" text-anchor="middle" fill="#111">(b)</text>
<text x="119" y="598.2" font-family="'DejaVu Sans', 'Liberation Sans', sans-serif" font-size="13.3" text-anchor="middle" fill="#111">(c)</text>
<text x="506" y="598.2" font-family="'DejaVu Sans', 'Liberation Sans', sans-serif" font-size="13.3" text-anchor="middle" fill="#111">(d)</text>
</svg>
</body></html>
